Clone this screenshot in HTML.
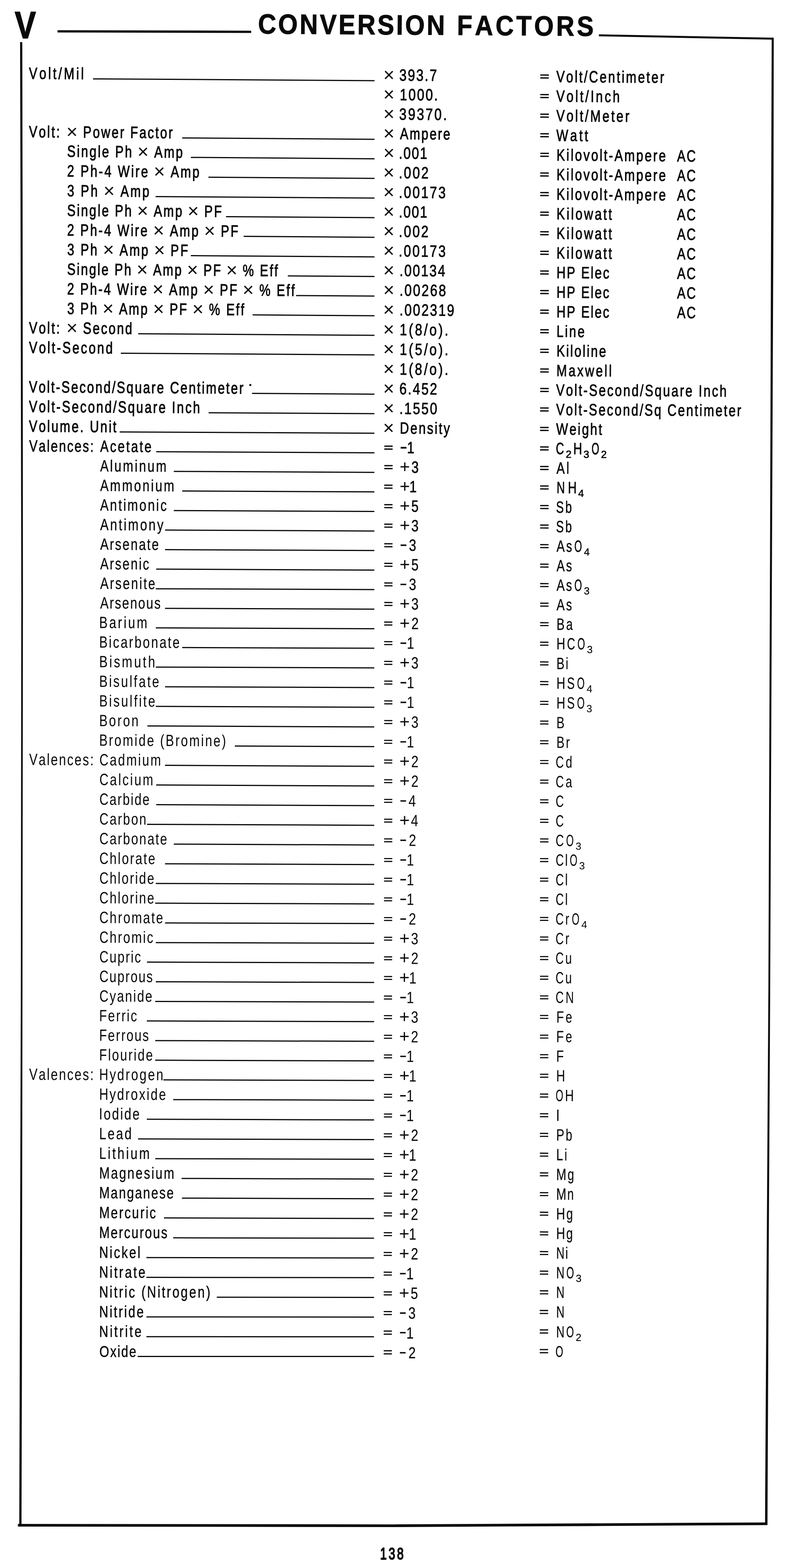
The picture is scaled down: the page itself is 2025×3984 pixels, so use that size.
<!DOCTYPE html>
<html><head><meta charset="utf-8"><title>Conversion Factors - V</title>
<style>
html,body{margin:0;padding:0;background:#fff}
body{width:2025px;height:3984px;overflow:hidden}
svg{display:block}
text{font-family:"Liberation Sans",sans-serif;fill:#0a0a0a;font-kerning:none;white-space:pre}
.b{font-weight:bold}
.t{stroke:#0a0a0a;stroke-width:1.25px;vector-effect:non-scaling-stroke;stroke-linejoin:round}
.x{stroke:none}
.m{stroke:#0a0a0a;stroke-width:0.9px;vector-effect:non-scaling-stroke}
.e{stroke:#0a0a0a;stroke-width:1.5px;vector-effect:non-scaling-stroke}
.b{stroke:#0a0a0a;vector-effect:non-scaling-stroke;stroke-linejoin:round}
.ln{stroke:#0a0a0a;fill:none}
</style></head><body>
<svg width="2025" height="3984" viewBox="0 0 2025 3984">
<path class="ln" d="M146.2 79.7 L638.2 80.8" stroke-width="5.8" stroke-linejoin="miter" stroke-linecap="butt"/>
<path class="ln" d="M1521.7 89.7 L1963.3 98.2" stroke-width="5.0" stroke-linejoin="miter" stroke-linecap="butt"/>
<path d="M1960.7 95.8 L1959.3 510.0 L1956.4 1422.0 L1952.3 2510.0 L1947.9 3200.0 L1944.1 3800.0 L1943.8 3874.8 L1950.0 3874.8 L1950.3 3800.0 L1953.1 3200.0 L1956.9 2510.0 L1961.4 1422.0 L1965.3 510.0 L1965.9 95.8Z" fill="#0a0a0a"/>
<path class="ln" d="M1949.7 3871.6 L1900.0 3871.8 L1500.0 3874.0 L1000.0 3876.6 L500.0 3875.9 L45.6 3875.4" stroke-width="6.8" stroke-linejoin="miter" stroke-linecap="butt"/>
<path d="M51.0 107.0 L52.1 510.0 L54.1 1510.0 L52.9 2510.0 L50.0 3510.0 L48.9 3878.0 L54.6 3878.0 L55.6 3510.0 L57.1 2510.0 L58.3 1510.0 L57.4 510.0 L56.6 107.0Z" fill="#0a0a0a"/>
<text class="b" transform="translate(37.45 97.00) rotate(0.000) scale(0.8400 1)" style="font-size:96px;letter-spacing:0.000px;stroke-width:2px">V</text>
<text class="b" transform="translate(655.38 85.30) rotate(0.400) scale(0.9000 1)" style="font-size:71px;letter-spacing:5.570px;stroke-width:1.2px">CONVERSION</text>
<text class="b" transform="translate(1160.93 88.80) rotate(0.400) scale(0.9000 1)" style="font-size:71px;letter-spacing:7.137px;stroke-width:1.2px">FACTORS</text>
<text class="t" transform="translate(965.70 3962.20) rotate(0.000) scale(0.7200 1)" style="font-size:42px;letter-spacing:6.572px;stroke-width:2.0px">138</text>
<text class="t" transform="translate(73.56 200.41) rotate(0.358) scale(0.7700 1)" style="font-size:41.5px;letter-spacing:6.423px;stroke-width:1.10px">Volt/Mil</text>
<path class="ln" d="M236.4 200.4 L951.7 204.9" stroke-width="3.0" stroke-linejoin="miter" stroke-linecap="butt"/>
<text class="x" transform="translate(973.81 206.63) rotate(0.358) scale(0.9980 1)" style="font-size:49px;letter-spacing:0.000px">×</text>
<text class="t" transform="translate(1014.44 205.08) rotate(0.358) scale(0.8000 1)" style="font-size:41.5px;letter-spacing:3.860px;stroke-width:1.10px">393.7</text>
<text class="e" transform="translate(1371.48 204.01) rotate(0.358) scale(1.4024 1)" style="font-size:29.5px;letter-spacing:0.000px;stroke-width:1.51px">=</text>
<text class="t" transform="translate(1413.46 208.77) rotate(0.358) scale(0.7700 1)" style="font-size:41.5px;letter-spacing:4.986px;stroke-width:1.10px">Volt/Centimeter</text>
<text class="x" transform="translate(973.77 256.18) rotate(0.371) scale(0.9980 1)" style="font-size:49px;letter-spacing:0.000px">×</text>
<text class="t" transform="translate(1015.83 254.65) rotate(0.371) scale(0.8000 1)" style="font-size:41.5px;letter-spacing:4.181px;stroke-width:1.09px">1000.</text>
<text class="e" transform="translate(1371.46 253.78) rotate(0.371) scale(1.4024 1)" style="font-size:29.5px;letter-spacing:0.000px;stroke-width:1.50px">=</text>
<text class="t" transform="translate(1413.44 258.56) rotate(0.371) scale(0.7700 1)" style="font-size:41.5px;letter-spacing:5.986px;stroke-width:1.09px">Volt/Inch</text>
<text class="x" transform="translate(973.73 305.73) rotate(0.384) scale(0.9980 1)" style="font-size:49px;letter-spacing:0.000px">×</text>
<text class="t" transform="translate(1014.36 304.20) rotate(0.384) scale(0.8000 1)" style="font-size:41.5px;letter-spacing:4.813px;stroke-width:1.09px">39370.</text>
<text class="e" transform="translate(1371.44 303.56) rotate(0.384) scale(1.4024 1)" style="font-size:29.5px;letter-spacing:0.000px;stroke-width:1.50px">=</text>
<text class="t" transform="translate(1413.42 308.34) rotate(0.384) scale(0.7700 1)" style="font-size:41.5px;letter-spacing:5.764px;stroke-width:1.09px">Volt/Meter</text>
<text class="t" transform="translate(73.56 348.82) rotate(0.398) scale(0.7700 1)" style="font-size:41.5px;letter-spacing:4.681px;stroke-width:1.10px">Volt:</text>
<text class="x" transform="translate(168.60 351.28) rotate(0.398) scale(1.0000 1)" style="font-size:49px;letter-spacing:0.000px">×</text>
<text class="t" transform="translate(211.07 349.78) rotate(0.398) scale(0.7700 1)" style="font-size:41.5px;letter-spacing:4.445px;stroke-width:1.10px">Power Factor</text>
<path class="ln" d="M463.0 350.5 L951.6 353.9" stroke-width="3.0" stroke-linejoin="miter" stroke-linecap="butt"/>
<text class="x" transform="translate(973.69 355.28) rotate(0.398) scale(0.9980 1)" style="font-size:49px;letter-spacing:0.000px">×</text>
<text class="t" transform="translate(1016.32 353.78) rotate(0.398) scale(0.7700 1)" style="font-size:41.5px;letter-spacing:4.076px;stroke-width:1.08px">Ampere</text>
<text class="e" transform="translate(1371.42 353.33) rotate(0.398) scale(1.4024 1)" style="font-size:29.5px;letter-spacing:0.000px;stroke-width:1.50px">=</text>
<text class="t" transform="translate(1413.39 358.13) rotate(0.398) scale(0.7700 1)" style="font-size:41.5px;letter-spacing:6.574px;stroke-width:1.08px">Watt</text>
<text class="t" transform="translate(170.55 398.58) rotate(0.430) scale(0.7700 1)" style="font-size:41.5px;letter-spacing:4.517px;stroke-width:1.10px">Single Ph</text>
<text class="x" transform="translate(349.10 401.72) rotate(0.430) scale(1.0000 1)" style="font-size:49px;letter-spacing:0.000px">×</text>
<text class="t" transform="translate(391.68 400.24) rotate(0.430) scale(0.7700 1)" style="font-size:41.5px;letter-spacing:4.517px;stroke-width:1.10px">Amp</text>
<path class="ln" d="M484.9 399.9 L951.6 403.4" stroke-width="3.0" stroke-linejoin="miter" stroke-linecap="butt"/>
<text class="x" transform="translate(973.66 404.68) rotate(0.430) scale(0.9980 1)" style="font-size:49px;letter-spacing:0.000px">×</text>
<text class="t" transform="translate(1013.31 403.18) rotate(0.430) scale(0.8000 1)" style="font-size:41.5px;letter-spacing:3.182px;stroke-width:1.08px">.001</text>
<text class="e" transform="translate(1371.39 403.08) rotate(0.430) scale(1.4024 1)" style="font-size:29.5px;letter-spacing:0.000px;stroke-width:1.49px">=</text>
<text class="t" transform="translate(1414.09 407.90) rotate(0.430) scale(0.7700 1)" style="font-size:41.5px;letter-spacing:4.833px;stroke-width:1.08px">Kilovolt-Ampere</text>
<text class="t" transform="translate(1720.14 410.20) rotate(0.430) scale(0.7700 1)" style="font-size:41.5px;letter-spacing:4.011px;stroke-width:1.08px">AC</text>
<text class="t" transform="translate(170.39 448.58) rotate(0.420) scale(0.7700 1)" style="font-size:41.5px;letter-spacing:4.801px;stroke-width:1.10px">2 Ph-4 Wire</text>
<text class="x" transform="translate(390.43 452.00) rotate(0.420) scale(1.0000 1)" style="font-size:49px;letter-spacing:0.000px">×</text>
<text class="t" transform="translate(433.44 450.51) rotate(0.420) scale(0.7700 1)" style="font-size:41.5px;letter-spacing:4.801px;stroke-width:1.10px">Amp</text>
<path class="ln" d="M529.6 450.2 L951.6 453.3" stroke-width="3.0" stroke-linejoin="miter" stroke-linecap="butt"/>
<text class="x" transform="translate(973.62 454.42) rotate(0.420) scale(0.9980 1)" style="font-size:49px;letter-spacing:0.000px">×</text>
<text class="t" transform="translate(1013.28 452.91) rotate(0.420) scale(0.8000 1)" style="font-size:41.5px;letter-spacing:4.493px;stroke-width:1.07px">.002</text>
<text class="e" transform="translate(1371.37 452.89) rotate(0.420) scale(1.4024 1)" style="font-size:29.5px;letter-spacing:0.000px;stroke-width:1.49px">=</text>
<text class="t" transform="translate(1414.07 457.70) rotate(0.420) scale(0.7700 1)" style="font-size:41.5px;letter-spacing:4.833px;stroke-width:1.07px">Kilovolt-Ampere</text>
<text class="t" transform="translate(1720.14 459.95) rotate(0.420) scale(0.7700 1)" style="font-size:41.5px;letter-spacing:4.011px;stroke-width:1.07px">AC</text>
<text class="t" transform="translate(170.78 498.80) rotate(0.402) scale(0.7700 1)" style="font-size:41.5px;letter-spacing:4.981px;stroke-width:1.10px">3 Ph</text>
<text class="x" transform="translate(262.68 501.24) rotate(0.402) scale(1.0000 1)" style="font-size:49px;letter-spacing:0.000px">×</text>
<text class="t" transform="translate(305.97 499.74) rotate(0.402) scale(0.7700 1)" style="font-size:41.5px;letter-spacing:4.981px;stroke-width:1.10px">Amp</text>
<path class="ln" d="M395.4 499.4 L951.6 503.3" stroke-width="3.0" stroke-linejoin="miter" stroke-linecap="butt"/>
<text class="x" transform="translate(973.58 504.24) rotate(0.402) scale(0.9980 1)" style="font-size:49px;letter-spacing:0.000px">×</text>
<text class="t" transform="translate(1013.24 502.72) rotate(0.402) scale(0.8000 1)" style="font-size:41.5px;letter-spacing:4.386px;stroke-width:1.07px">.00173</text>
<text class="e" transform="translate(1371.35 502.71) rotate(0.402) scale(1.4024 1)" style="font-size:29.5px;letter-spacing:0.000px;stroke-width:1.49px">=</text>
<text class="t" transform="translate(1414.05 507.51) rotate(0.402) scale(0.7700 1)" style="font-size:41.5px;letter-spacing:4.833px;stroke-width:1.07px">Kilovolt-Ampere</text>
<text class="t" transform="translate(1720.14 509.65) rotate(0.402) scale(0.7700 1)" style="font-size:41.5px;letter-spacing:4.011px;stroke-width:1.07px">AC</text>
<text class="t" transform="translate(170.55 548.64) rotate(0.399) scale(0.7700 1)" style="font-size:41.5px;letter-spacing:4.381px;stroke-width:1.10px">Single Ph</text>
<text class="x" transform="translate(348.06 551.68) rotate(0.399) scale(1.0000 1)" style="font-size:49px;letter-spacing:0.000px">×</text>
<text class="t" transform="translate(390.43 550.18) rotate(0.399) scale(0.7700 1)" style="font-size:41.5px;letter-spacing:4.381px;stroke-width:1.10px">Amp</text>
<text class="x" transform="translate(476.61 552.58) rotate(0.399) scale(1.0000 1)" style="font-size:49px;letter-spacing:0.000px">×</text>
<text class="t" transform="translate(518.97 551.07) rotate(0.399) scale(0.7700 1)" style="font-size:41.5px;letter-spacing:4.381px;stroke-width:1.10px">PF</text>
<path class="ln" d="M574.3 550.5 L951.5 553.1" stroke-width="3.0" stroke-linejoin="miter" stroke-linecap="butt"/>
<text class="x" transform="translate(973.54 553.93) rotate(0.399) scale(0.9980 1)" style="font-size:49px;letter-spacing:0.000px">×</text>
<text class="t" transform="translate(1013.20 552.40) rotate(0.399) scale(0.8000 1)" style="font-size:41.5px;letter-spacing:3.182px;stroke-width:1.06px">.001</text>
<text class="e" transform="translate(1371.33 552.51) rotate(0.399) scale(1.4024 1)" style="font-size:29.5px;letter-spacing:0.000px;stroke-width:1.48px">=</text>
<text class="t" transform="translate(1414.03 557.30) rotate(0.399) scale(0.7700 1)" style="font-size:41.5px;letter-spacing:5.355px;stroke-width:1.06px">Kilowatt</text>
<text class="t" transform="translate(1720.14 559.43) rotate(0.399) scale(0.7700 1)" style="font-size:41.5px;letter-spacing:4.011px;stroke-width:1.06px">AC</text>
<text class="t" transform="translate(170.39 598.50) rotate(0.396) scale(0.7700 1)" style="font-size:41.5px;letter-spacing:4.610px;stroke-width:1.10px">2 Ph-4 Wire</text>
<text class="x" transform="translate(388.67 601.81) rotate(0.396) scale(1.0000 1)" style="font-size:49px;letter-spacing:0.000px">×</text>
<text class="t" transform="translate(431.39 600.30) rotate(0.396) scale(0.7700 1)" style="font-size:41.5px;letter-spacing:4.610px;stroke-width:1.10px">Amp</text>
<text class="x" transform="translate(518.28 602.70) rotate(0.396) scale(1.0000 1)" style="font-size:49px;letter-spacing:0.000px">×</text>
<text class="t" transform="translate(561.00 601.20) rotate(0.396) scale(0.7700 1)" style="font-size:41.5px;letter-spacing:4.610px;stroke-width:1.10px">PF</text>
<path class="ln" d="M619.0 600.6 L951.5 602.9" stroke-width="3.0" stroke-linejoin="miter" stroke-linecap="butt"/>
<text class="x" transform="translate(973.50 603.61) rotate(0.396) scale(0.9980 1)" style="font-size:49px;letter-spacing:0.000px">×</text>
<text class="t" transform="translate(1013.16 602.08) rotate(0.396) scale(0.8000 1)" style="font-size:41.5px;letter-spacing:4.493px;stroke-width:1.06px">.002</text>
<text class="e" transform="translate(1371.31 602.30) rotate(0.396) scale(1.4024 1)" style="font-size:29.5px;letter-spacing:0.000px;stroke-width:1.48px">=</text>
<text class="t" transform="translate(1414.01 607.10) rotate(0.396) scale(0.7700 1)" style="font-size:41.5px;letter-spacing:5.355px;stroke-width:1.06px">Kilowatt</text>
<text class="t" transform="translate(1720.14 609.22) rotate(0.396) scale(0.7700 1)" style="font-size:41.5px;letter-spacing:4.011px;stroke-width:1.06px">AC</text>
<text class="t" transform="translate(170.78 648.35) rotate(0.394) scale(0.7700 1)" style="font-size:41.5px;letter-spacing:4.585px;stroke-width:1.10px">3 Ph</text>
<text class="x" transform="translate(261.15 650.77) rotate(0.394) scale(1.0000 1)" style="font-size:49px;letter-spacing:0.000px">×</text>
<text class="t" transform="translate(303.83 649.26) rotate(0.394) scale(0.7700 1)" style="font-size:41.5px;letter-spacing:4.585px;stroke-width:1.10px">Amp</text>
<text class="x" transform="translate(390.64 651.66) rotate(0.394) scale(1.0000 1)" style="font-size:49px;letter-spacing:0.000px">×</text>
<text class="t" transform="translate(433.32 650.15) rotate(0.394) scale(0.7700 1)" style="font-size:41.5px;letter-spacing:4.585px;stroke-width:1.10px">PF</text>
<path class="ln" d="M484.9 649.5 L951.5 652.7" stroke-width="3.0" stroke-linejoin="miter" stroke-linecap="butt"/>
<text class="x" transform="translate(973.46 653.30) rotate(0.394) scale(0.9980 1)" style="font-size:49px;letter-spacing:0.000px">×</text>
<text class="t" transform="translate(1013.12 651.77) rotate(0.394) scale(0.8000 1)" style="font-size:41.5px;letter-spacing:4.386px;stroke-width:1.05px">.00173</text>
<text class="e" transform="translate(1371.29 652.10) rotate(0.394) scale(1.4024 1)" style="font-size:29.5px;letter-spacing:0.000px;stroke-width:1.48px">=</text>
<text class="t" transform="translate(1413.98 656.89) rotate(0.394) scale(0.7700 1)" style="font-size:41.5px;letter-spacing:5.355px;stroke-width:1.05px">Kilowatt</text>
<text class="t" transform="translate(1720.14 659.00) rotate(0.394) scale(0.7700 1)" style="font-size:41.5px;letter-spacing:4.011px;stroke-width:1.05px">AC</text>
<text class="t" transform="translate(170.55 698.20) rotate(0.391) scale(0.7700 1)" style="font-size:41.5px;letter-spacing:4.229px;stroke-width:1.10px">Single Ph</text>
<text class="x" transform="translate(346.88 701.20) rotate(0.391) scale(1.0000 1)" style="font-size:49px;letter-spacing:0.000px">×</text>
<text class="t" transform="translate(389.01 699.69) rotate(0.391) scale(0.7700 1)" style="font-size:41.5px;letter-spacing:4.229px;stroke-width:1.10px">Amp</text>
<text class="x" transform="translate(474.72 702.08) rotate(0.391) scale(1.0000 1)" style="font-size:49px;letter-spacing:0.000px">×</text>
<text class="t" transform="translate(516.85 700.56) rotate(0.391) scale(0.7700 1)" style="font-size:41.5px;letter-spacing:4.229px;stroke-width:1.10px">PF</text>
<text class="x" transform="translate(574.44 702.76) rotate(0.391) scale(1.0000 1)" style="font-size:49px;letter-spacing:0.000px">×</text>
<text class="t" transform="translate(616.57 701.24) rotate(0.391) scale(0.7700 1)" style="font-size:41.5px;letter-spacing:4.229px;stroke-width:1.10px">% Eff</text>
<path class="ln" d="M731.3 701.0 L951.5 702.5" stroke-width="3.0" stroke-linejoin="miter" stroke-linecap="butt"/>
<text class="x" transform="translate(973.42 702.98) rotate(0.391) scale(0.9980 1)" style="font-size:49px;letter-spacing:0.000px">×</text>
<text class="t" transform="translate(1015.08 701.46) rotate(0.391) scale(0.8000 1)" style="font-size:41.5px;letter-spacing:3.565px;stroke-width:1.05px">.00134</text>
<text class="e" transform="translate(1371.26 701.90) rotate(0.391) scale(1.4024 1)" style="font-size:29.5px;letter-spacing:0.000px;stroke-width:1.48px">=</text>
<text class="t" transform="translate(1413.96 706.69) rotate(0.391) scale(0.7700 1)" style="font-size:41.5px;letter-spacing:4.011px;stroke-width:1.05px">HP Elec</text>
<text class="t" transform="translate(1720.14 708.78) rotate(0.391) scale(0.7700 1)" style="font-size:41.5px;letter-spacing:4.011px;stroke-width:1.05px">AC</text>
<text class="t" transform="translate(170.39 748.05) rotate(0.389) scale(0.7700 1)" style="font-size:41.5px;letter-spacing:4.427px;stroke-width:1.10px">2 Ph-4 Wire</text>
<text class="x" transform="translate(386.98 751.32) rotate(0.389) scale(1.0000 1)" style="font-size:49px;letter-spacing:0.000px">×</text>
<text class="t" transform="translate(429.42 749.81) rotate(0.389) scale(0.7700 1)" style="font-size:41.5px;letter-spacing:4.427px;stroke-width:1.10px">Amp</text>
<text class="x" transform="translate(515.74 752.19) rotate(0.389) scale(1.0000 1)" style="font-size:49px;letter-spacing:0.000px">×</text>
<text class="t" transform="translate(558.18 750.68) rotate(0.389) scale(0.7700 1)" style="font-size:41.5px;letter-spacing:4.427px;stroke-width:1.10px">PF</text>
<text class="x" transform="translate(616.22 752.87) rotate(0.389) scale(1.0000 1)" style="font-size:49px;letter-spacing:0.000px">×</text>
<text class="t" transform="translate(658.66 751.36) rotate(0.389) scale(0.7700 1)" style="font-size:41.5px;letter-spacing:4.427px;stroke-width:1.10px">% Eff</text>
<path class="ln" d="M752.2 751.0 L951.4 752.3" stroke-width="3.0" stroke-linejoin="miter" stroke-linecap="butt"/>
<text class="x" transform="translate(973.39 753.04) rotate(0.389) scale(0.9980 1)" style="font-size:49px;letter-spacing:0.000px">×</text>
<text class="t" transform="translate(1015.05 751.53) rotate(0.389) scale(0.8000 1)" style="font-size:41.5px;letter-spacing:4.082px;stroke-width:1.04px">.00268</text>
<text class="e" transform="translate(1371.24 751.69) rotate(0.389) scale(1.4024 1)" style="font-size:29.5px;letter-spacing:0.000px;stroke-width:1.47px">=</text>
<text class="t" transform="translate(1413.94 756.48) rotate(0.389) scale(0.7700 1)" style="font-size:41.5px;letter-spacing:4.011px;stroke-width:1.04px">HP Elec</text>
<text class="t" transform="translate(1720.14 758.56) rotate(0.389) scale(0.7700 1)" style="font-size:41.5px;letter-spacing:4.011px;stroke-width:1.04px">AC</text>
<text class="t" transform="translate(170.78 797.90) rotate(0.386) scale(0.7700 1)" style="font-size:41.5px;letter-spacing:4.323px;stroke-width:1.10px">3 Ph</text>
<text class="x" transform="translate(260.14 800.31) rotate(0.386) scale(1.0000 1)" style="font-size:49px;letter-spacing:0.000px">×</text>
<text class="t" transform="translate(302.42 798.79) rotate(0.386) scale(0.7700 1)" style="font-size:41.5px;letter-spacing:4.323px;stroke-width:1.10px">Amp</text>
<text class="x" transform="translate(388.42 801.17) rotate(0.386) scale(1.0000 1)" style="font-size:49px;letter-spacing:0.000px">×</text>
<text class="t" transform="translate(430.70 799.65) rotate(0.386) scale(0.7700 1)" style="font-size:41.5px;letter-spacing:4.323px;stroke-width:1.10px">PF</text>
<text class="x" transform="translate(488.50 801.84) rotate(0.386) scale(1.0000 1)" style="font-size:49px;letter-spacing:0.000px">×</text>
<text class="t" transform="translate(530.78 800.33) rotate(0.386) scale(0.7700 1)" style="font-size:41.5px;letter-spacing:4.323px;stroke-width:1.10px">% Eff</text>
<path class="ln" d="M641.9 800.1 L951.4 802.2" stroke-width="3.0" stroke-linejoin="miter" stroke-linecap="butt"/>
<text class="x" transform="translate(973.35 803.11) rotate(0.386) scale(0.9980 1)" style="font-size:49px;letter-spacing:0.000px">×</text>
<text class="t" transform="translate(1015.01 801.59) rotate(0.386) scale(0.8000 1)" style="font-size:41.5px;letter-spacing:3.978px;stroke-width:1.04px">.002319</text>
<text class="e" transform="translate(1371.22 801.49) rotate(0.386) scale(1.4024 1)" style="font-size:29.5px;letter-spacing:0.000px;stroke-width:1.47px">=</text>
<text class="t" transform="translate(1413.92 806.28) rotate(0.386) scale(0.7700 1)" style="font-size:41.5px;letter-spacing:4.011px;stroke-width:1.04px">HP Elec</text>
<text class="t" transform="translate(1720.14 808.34) rotate(0.386) scale(0.7700 1)" style="font-size:41.5px;letter-spacing:4.011px;stroke-width:1.04px">AC</text>
<text class="t" transform="translate(73.56 847.10) rotate(0.383) scale(0.7700 1)" style="font-size:41.5px;letter-spacing:4.681px;stroke-width:1.10px">Volt:</text>
<text class="x" transform="translate(168.60 849.54) rotate(0.383) scale(1.0000 1)" style="font-size:49px;letter-spacing:0.000px">×</text>
<text class="t" transform="translate(210.87 848.02) rotate(0.383) scale(0.7700 1)" style="font-size:41.5px;letter-spacing:4.315px;stroke-width:1.10px">Second</text>
<path class="ln" d="M351.2 848.0 L951.4 852.0" stroke-width="3.0" stroke-linejoin="miter" stroke-linecap="butt"/>
<text class="x" transform="translate(973.31 853.17) rotate(0.383) scale(0.9980 1)" style="font-size:49px;letter-spacing:0.000px">×</text>
<text class="t" transform="translate(1015.47 851.66) rotate(0.383) scale(0.8000 1)" style="font-size:41.5px;letter-spacing:5.752px;stroke-width:1.03px">1(8/o).</text>
<text class="e" transform="translate(1371.20 851.29) rotate(0.383) scale(1.4024 1)" style="font-size:29.5px;letter-spacing:0.000px;stroke-width:1.47px">=</text>
<text class="t" transform="translate(1413.90 856.07) rotate(0.383) scale(0.7700 1)" style="font-size:41.5px;letter-spacing:4.773px;stroke-width:1.03px">Line</text>
<text class="t" transform="translate(73.56 896.96) rotate(0.381) scale(0.7700 1)" style="font-size:41.5px;letter-spacing:5.015px;stroke-width:1.10px">Volt-Second</text>
<path class="ln" d="M307.0 897.5 L951.4 901.8" stroke-width="3.0" stroke-linejoin="miter" stroke-linecap="butt"/>
<text class="x" transform="translate(973.27 903.24) rotate(0.381) scale(0.9980 1)" style="font-size:49px;letter-spacing:0.000px">×</text>
<text class="t" transform="translate(1015.43 901.72) rotate(0.381) scale(0.8000 1)" style="font-size:41.5px;letter-spacing:5.752px;stroke-width:1.03px">1(5/o).</text>
<text class="e" transform="translate(1371.18 901.08) rotate(0.381) scale(1.4024 1)" style="font-size:29.5px;letter-spacing:0.000px;stroke-width:1.46px">=</text>
<text class="t" transform="translate(1413.88 905.87) rotate(0.381) scale(0.7700 1)" style="font-size:41.5px;letter-spacing:4.270px;stroke-width:1.03px">Kiloline</text>
<text class="x" transform="translate(973.23 953.41) rotate(0.371) scale(0.9980 1)" style="font-size:49px;letter-spacing:0.000px">×</text>
<text class="t" transform="translate(1015.39 951.88) rotate(0.371) scale(0.8000 1)" style="font-size:41.5px;letter-spacing:5.752px;stroke-width:1.02px">1(8/o).</text>
<text class="e" transform="translate(1371.16 950.89) rotate(0.371) scale(1.4024 1)" style="font-size:29.5px;letter-spacing:0.000px;stroke-width:1.46px">=</text>
<text class="t" transform="translate(1413.86 955.67) rotate(0.371) scale(0.7700 1)" style="font-size:41.5px;letter-spacing:5.377px;stroke-width:1.02px">Maxwell</text>
<text class="t" transform="translate(73.56 997.03) rotate(0.349) scale(0.7700 1)" style="font-size:41.5px;letter-spacing:4.351px;stroke-width:1.10px">Volt-Second/Square Centimeter</text>
<path class="ln" d="M640.4 999.5 L951.3 1001.4" stroke-width="3.0" stroke-linejoin="miter" stroke-linecap="butt"/>
<circle cx="636.0" cy="978.2" r="2.7" fill="#0a0a0a"/>
<text class="x" transform="translate(973.19 1003.42) rotate(0.349) scale(0.9980 1)" style="font-size:49px;letter-spacing:0.000px">×</text>
<text class="t" transform="translate(1014.70 1001.87) rotate(0.349) scale(0.8000 1)" style="font-size:41.5px;letter-spacing:3.992px;stroke-width:1.02px">6.452</text>
<text class="e" transform="translate(1371.14 1000.44) rotate(0.349) scale(1.4024 1)" style="font-size:29.5px;letter-spacing:0.000px;stroke-width:1.46px">=</text>
<text class="t" transform="translate(1413.11 1005.20) rotate(0.349) scale(0.7700 1)" style="font-size:41.5px;letter-spacing:4.595px;stroke-width:1.02px">Volt-Second/Square Inch</text>
<text class="t" transform="translate(73.56 1047.08) rotate(0.328) scale(0.7700 1)" style="font-size:41.5px;letter-spacing:4.689px;stroke-width:1.10px">Volt-Second/Square Inch</text>
<path class="ln" d="M530.0 1048.7 L951.3 1051.1" stroke-width="3.0" stroke-linejoin="miter" stroke-linecap="butt"/>
<text class="x" transform="translate(973.16 1053.42) rotate(0.328) scale(0.9980 1)" style="font-size:49px;letter-spacing:0.000px">×</text>
<text class="t" transform="translate(1014.81 1051.86) rotate(0.328) scale(0.8000 1)" style="font-size:41.5px;letter-spacing:4.015px;stroke-width:1.01px">.1550</text>
<text class="e" transform="translate(1371.11 1050.00) rotate(0.328) scale(1.4024 1)" style="font-size:29.5px;letter-spacing:0.000px;stroke-width:1.46px">=</text>
<text class="t" transform="translate(1413.09 1054.74) rotate(0.328) scale(0.7700 1)" style="font-size:41.5px;letter-spacing:4.495px;stroke-width:1.01px">Volt-Second/Sq Centimeter</text>
<text class="t" transform="translate(73.56 1097.12) rotate(0.306) scale(0.7700 1)" style="font-size:41.5px;letter-spacing:4.645px;stroke-width:1.10px">Volume. Unit</text>
<path class="ln" d="M304.0 1097.4 L951.3 1100.8" stroke-width="3.0" stroke-linejoin="miter" stroke-linecap="butt"/>
<text class="x" transform="translate(973.12 1103.43) rotate(0.306) scale(0.9980 1)" style="font-size:49px;letter-spacing:0.000px">×</text>
<text class="t" transform="translate(1016.09 1101.86) rotate(0.306) scale(0.7700 1)" style="font-size:41.5px;letter-spacing:4.422px;stroke-width:1.01px">Density</text>
<text class="e" transform="translate(1371.09 1099.55) rotate(0.306) scale(1.4024 1)" style="font-size:29.5px;letter-spacing:0.000px;stroke-width:1.45px">=</text>
<text class="t" transform="translate(1413.07 1104.28) rotate(0.306) scale(0.7700 1)" style="font-size:41.5px;letter-spacing:4.473px;stroke-width:1.01px">Weight</text>
<text class="t" transform="translate(74.06 1147.18) rotate(0.284) scale(0.7700 1)" style="font-size:41.5px;letter-spacing:3.819px;stroke-width:0.83px">Valences:</text>
<text class="t" transform="translate(254.44 1148.07) rotate(0.284) scale(0.7700 1)" style="font-size:41.5px;letter-spacing:4.788px;stroke-width:0.83px">Acetate</text>
<path class="ln" d="M396.9 1147.8 L951.3 1150.5" stroke-width="3.0" stroke-linejoin="miter" stroke-linecap="butt"/>
<text class="e" transform="translate(975.20 1146.98) rotate(0.284) scale(1.3675 1)" style="font-size:29.5px;letter-spacing:0.000px;stroke-width:1.45px">=</text>
<text class="m" transform="translate(1016.63 1152.38) rotate(0.284) scale(0.6495 1)" style="font-size:45px;letter-spacing:0.000px;stroke-width:0.85px">−</text>
<text class="t" transform="translate(1034.13 1151.57) rotate(0.284) scale(0.8000 1)" style="font-size:41.5px;letter-spacing:0.000px;stroke-width:1.00px">1</text>
<text class="e" transform="translate(1371.07 1149.11) rotate(0.284) scale(1.4024 1)" style="font-size:29.5px;letter-spacing:0.000px;stroke-width:1.45px">=</text>
<text class="t" transform="translate(1412.14 1153.81) rotate(0.284) scale(0.6900 1)" style="font-size:41.5px;letter-spacing:0.000px;stroke-width:1.00px">C</text>
<text class="t" transform="translate(1437.42 1162.94) rotate(0.284) scale(1.0000 1)" style="font-size:26px;letter-spacing:0.000px;stroke-width:1.00px">2</text>
<text class="t" transform="translate(1456.52 1154.03) rotate(0.284) scale(0.7500 1)" style="font-size:41.5px;letter-spacing:0.000px;stroke-width:1.00px">H</text>
<text class="t" transform="translate(1482.47 1163.16) rotate(0.284) scale(1.0000 1)" style="font-size:26px;letter-spacing:0.000px;stroke-width:1.00px">3</text>
<text class="t" transform="translate(1503.10 1154.26) rotate(0.284) scale(0.6000 1)" style="font-size:41.5px;letter-spacing:0.000px;stroke-width:1.00px">O</text>
<text class="t" transform="translate(1526.97 1163.38) rotate(0.284) scale(1.0000 1)" style="font-size:26px;letter-spacing:0.000px;stroke-width:1.00px">2</text>
<text class="t" transform="translate(254.44 1197.81) rotate(0.277) scale(0.7700 1)" style="font-size:41.5px;letter-spacing:4.899px;stroke-width:0.55px">Aluminum</text>
<path class="ln" d="M441.6 1197.7 L951.2 1200.2" stroke-width="3.0" stroke-linejoin="miter" stroke-linecap="butt"/>
<text class="e" transform="translate(975.16 1196.57) rotate(0.277) scale(1.3675 1)" style="font-size:29.5px;letter-spacing:0.000px;stroke-width:1.40px">=</text>
<text class="x" transform="translate(1015.33 1201.06) rotate(0.277) scale(1.0017 1)" style="font-size:45px;letter-spacing:0.000px">+</text>
<text class="t" transform="translate(1045.23 1201.21) rotate(0.277) scale(0.8000 1)" style="font-size:41.5px;letter-spacing:0.000px;stroke-width:0.90px">3</text>
<text class="e" transform="translate(1371.05 1198.72) rotate(0.277) scale(1.4024 1)" style="font-size:29.5px;letter-spacing:0.000px;stroke-width:1.40px">=</text>
<text class="t" transform="translate(1414.11 1203.43) rotate(0.277) scale(0.7500 1)" style="font-size:41.5px;letter-spacing:0.000px;stroke-width:0.90px">A</text>
<text class="t" transform="translate(1439.29 1203.55) rotate(0.277) scale(0.7200 1)" style="font-size:41.5px;letter-spacing:0.000px;stroke-width:0.90px">l</text>
<text class="t" transform="translate(254.44 1247.56) rotate(0.270) scale(0.7700 1)" style="font-size:41.5px;letter-spacing:4.951px;stroke-width:0.51px">Ammonium</text>
<path class="ln" d="M463.0 1247.5 L951.2 1249.8" stroke-width="3.0" stroke-linejoin="miter" stroke-linecap="butt"/>
<text class="e" transform="translate(975.12 1246.16) rotate(0.270) scale(1.3675 1)" style="font-size:29.5px;letter-spacing:0.000px;stroke-width:1.34px">=</text>
<text class="x" transform="translate(1015.29 1250.65) rotate(0.270) scale(1.0017 1)" style="font-size:45px;letter-spacing:0.000px">+</text>
<text class="t" transform="translate(1040.35 1250.77) rotate(0.270) scale(0.8000 1)" style="font-size:41.5px;letter-spacing:0.000px;stroke-width:0.80px">1</text>
<text class="e" transform="translate(1371.03 1248.33) rotate(0.270) scale(1.4024 1)" style="font-size:29.5px;letter-spacing:0.000px;stroke-width:1.34px">=</text>
<text class="t" transform="translate(1414.16 1253.03) rotate(0.270) scale(0.7000 1)" style="font-size:41.5px;letter-spacing:0.000px;stroke-width:0.80px">N</text>
<text class="t" transform="translate(1442.72 1253.17) rotate(0.270) scale(0.7500 1)" style="font-size:41.5px;letter-spacing:0.000px;stroke-width:0.80px">H</text>
<text class="t" transform="translate(1469.06 1262.29) rotate(0.270) scale(1.0000 1)" style="font-size:26px;letter-spacing:0.000px;stroke-width:0.80px">4</text>
<text class="t" transform="translate(254.44 1297.30) rotate(0.264) scale(0.7700 1)" style="font-size:41.5px;letter-spacing:4.676px;stroke-width:0.47px">Antimonic</text>
<path class="ln" d="M441.6 1297.2 L951.2 1299.5" stroke-width="3.0" stroke-linejoin="miter" stroke-linecap="butt"/>
<text class="e" transform="translate(975.08 1295.75) rotate(0.264) scale(1.3675 1)" style="font-size:29.5px;letter-spacing:0.000px;stroke-width:1.29px">=</text>
<text class="x" transform="translate(1015.25 1300.23) rotate(0.264) scale(1.0017 1)" style="font-size:45px;letter-spacing:0.000px">+</text>
<text class="t" transform="translate(1045.08 1300.37) rotate(0.264) scale(0.8000 1)" style="font-size:41.5px;letter-spacing:0.000px;stroke-width:0.70px">5</text>
<text class="e" transform="translate(1371.01 1297.94) rotate(0.264) scale(1.4024 1)" style="font-size:29.5px;letter-spacing:0.000px;stroke-width:1.29px">=</text>
<text class="t" transform="translate(1412.79 1302.63) rotate(0.264) scale(0.7100 1)" style="font-size:41.5px;letter-spacing:0.000px;stroke-width:0.70px">S</text>
<text class="t" transform="translate(1436.16 1302.74) rotate(0.264) scale(0.7200 1)" style="font-size:41.5px;letter-spacing:0.000px;stroke-width:0.70px">b</text>
<text class="t" transform="translate(254.44 1347.04) rotate(0.257) scale(0.7700 1)" style="font-size:41.5px;letter-spacing:5.143px;stroke-width:0.43px">Antimony</text>
<path class="ln" d="M419.3 1346.8 L951.2 1349.2" stroke-width="3.0" stroke-linejoin="miter" stroke-linecap="butt"/>
<text class="e" transform="translate(975.05 1345.34) rotate(0.257) scale(1.3675 1)" style="font-size:29.5px;letter-spacing:0.000px;stroke-width:1.23px">=</text>
<text class="x" transform="translate(1015.21 1349.82) rotate(0.257) scale(1.0017 1)" style="font-size:45px;letter-spacing:0.000px">+</text>
<text class="t" transform="translate(1045.11 1349.95) rotate(0.257) scale(0.8000 1)" style="font-size:41.5px;letter-spacing:0.000px;stroke-width:0.60px">3</text>
<text class="e" transform="translate(1370.98 1347.55) rotate(0.257) scale(1.4024 1)" style="font-size:29.5px;letter-spacing:0.000px;stroke-width:1.23px">=</text>
<text class="t" transform="translate(1412.77 1352.23) rotate(0.257) scale(0.7100 1)" style="font-size:41.5px;letter-spacing:0.000px;stroke-width:0.60px">S</text>
<text class="t" transform="translate(1436.14 1352.34) rotate(0.257) scale(0.7200 1)" style="font-size:41.5px;letter-spacing:0.000px;stroke-width:0.60px">b</text>
<text class="t" transform="translate(254.44 1396.79) rotate(0.250) scale(0.7700 1)" style="font-size:41.5px;letter-spacing:3.893px;stroke-width:0.38px">Arsenate</text>
<path class="ln" d="M419.3 1396.5 L951.1 1398.8" stroke-width="3.0" stroke-linejoin="miter" stroke-linecap="butt"/>
<text class="e" transform="translate(975.01 1394.93) rotate(0.250) scale(1.3675 1)" style="font-size:29.5px;letter-spacing:0.000px;stroke-width:1.20px">=</text>
<text class="m" transform="translate(1016.44 1400.31) rotate(0.250) scale(0.6495 1)" style="font-size:45px;letter-spacing:0.000px;stroke-width:0.53px">−</text>
<text class="t" transform="translate(1039.07 1399.51) rotate(0.250) scale(0.8000 1)" style="font-size:41.5px;letter-spacing:0.000px;stroke-width:0.55px">3</text>
<text class="e" transform="translate(1370.96 1397.16) rotate(0.250) scale(1.4024 1)" style="font-size:29.5px;letter-spacing:0.000px;stroke-width:1.20px">=</text>
<text class="t" transform="translate(1414.02 1401.84) rotate(0.250) scale(0.7500 1)" style="font-size:41.5px;letter-spacing:0.000px;stroke-width:0.55px">A</text>
<text class="t" transform="translate(1438.39 1401.95) rotate(0.250) scale(0.7200 1)" style="font-size:41.5px;letter-spacing:0.000px;stroke-width:0.55px">s</text>
<text class="t" transform="translate(1459.27 1402.04) rotate(0.250) scale(0.6000 1)" style="font-size:41.5px;letter-spacing:0.000px;stroke-width:0.55px">O</text>
<text class="t" transform="translate(1483.85 1411.15) rotate(0.250) scale(1.0000 1)" style="font-size:26px;letter-spacing:0.000px;stroke-width:0.55px">4</text>
<text class="t" transform="translate(254.44 1446.53) rotate(0.243) scale(0.7700 1)" style="font-size:41.5px;letter-spacing:3.864px;stroke-width:0.34px">Arsenic</text>
<path class="ln" d="M396.9 1446.1 L951.1 1448.5" stroke-width="3.0" stroke-linejoin="miter" stroke-linecap="butt"/>
<text class="e" transform="translate(974.97 1444.70) rotate(0.243) scale(1.3675 1)" style="font-size:29.5px;letter-spacing:0.000px;stroke-width:1.18px">=</text>
<text class="x" transform="translate(1015.14 1449.17) rotate(0.243) scale(1.0017 1)" style="font-size:45px;letter-spacing:0.000px">+</text>
<text class="t" transform="translate(1044.97 1449.30) rotate(0.243) scale(0.8000 1)" style="font-size:41.5px;letter-spacing:0.000px;stroke-width:0.50px">5</text>
<text class="e" transform="translate(1370.94 1446.76) rotate(0.243) scale(1.4024 1)" style="font-size:29.5px;letter-spacing:0.000px;stroke-width:1.18px">=</text>
<text class="t" transform="translate(1414.00 1451.45) rotate(0.243) scale(0.7500 1)" style="font-size:41.5px;letter-spacing:0.000px;stroke-width:0.50px">A</text>
<text class="t" transform="translate(1438.37 1451.55) rotate(0.243) scale(0.7200 1)" style="font-size:41.5px;letter-spacing:0.000px;stroke-width:0.50px">s</text>
<text class="t" transform="translate(254.44 1496.27) rotate(0.236) scale(0.7700 1)" style="font-size:41.5px;letter-spacing:4.203px;stroke-width:0.30px">Arsenite</text>
<path class="ln" d="M395.9 1495.9 L951.1 1498.1" stroke-width="3.0" stroke-linejoin="miter" stroke-linecap="butt"/>
<text class="e" transform="translate(974.93 1494.48) rotate(0.236) scale(1.3675 1)" style="font-size:29.5px;letter-spacing:0.000px;stroke-width:1.15px">=</text>
<text class="m" transform="translate(1016.36 1499.85) rotate(0.236) scale(0.6495 1)" style="font-size:45px;letter-spacing:0.000px;stroke-width:0.46px">−</text>
<text class="t" transform="translate(1038.99 1499.04) rotate(0.236) scale(0.8000 1)" style="font-size:41.5px;letter-spacing:0.000px;stroke-width:0.45px">3</text>
<text class="e" transform="translate(1370.92 1496.37) rotate(0.236) scale(1.4024 1)" style="font-size:29.5px;letter-spacing:0.000px;stroke-width:1.15px">=</text>
<text class="t" transform="translate(1413.98 1501.05) rotate(0.236) scale(0.7500 1)" style="font-size:41.5px;letter-spacing:0.000px;stroke-width:0.45px">A</text>
<text class="t" transform="translate(1438.35 1501.15) rotate(0.236) scale(0.7200 1)" style="font-size:41.5px;letter-spacing:0.000px;stroke-width:0.45px">s</text>
<text class="t" transform="translate(1459.23 1501.24) rotate(0.236) scale(0.6000 1)" style="font-size:41.5px;letter-spacing:0.000px;stroke-width:0.45px">O</text>
<text class="t" transform="translate(1483.41 1510.34) rotate(0.236) scale(1.0000 1)" style="font-size:26px;letter-spacing:0.000px;stroke-width:0.45px">3</text>
<text class="t" transform="translate(254.44 1546.02) rotate(0.229) scale(0.7700 1)" style="font-size:41.5px;letter-spacing:3.436px;stroke-width:0.25px">Arsenous</text>
<path class="ln" d="M419.3 1545.7 L951.1 1547.8" stroke-width="3.0" stroke-linejoin="miter" stroke-linecap="butt"/>
<text class="e" transform="translate(974.89 1544.25) rotate(0.229) scale(1.3675 1)" style="font-size:29.5px;letter-spacing:0.000px;stroke-width:1.12px">=</text>
<text class="x" transform="translate(1015.06 1548.71) rotate(0.229) scale(1.0017 1)" style="font-size:45px;letter-spacing:0.000px">+</text>
<text class="t" transform="translate(1044.96 1548.83) rotate(0.229) scale(0.8000 1)" style="font-size:41.5px;letter-spacing:0.000px;stroke-width:0.40px">3</text>
<text class="e" transform="translate(1370.90 1545.98) rotate(0.229) scale(1.4024 1)" style="font-size:29.5px;letter-spacing:0.000px;stroke-width:1.12px">=</text>
<text class="t" transform="translate(1413.96 1550.66) rotate(0.229) scale(0.7500 1)" style="font-size:41.5px;letter-spacing:0.000px;stroke-width:0.40px">A</text>
<text class="t" transform="translate(1438.33 1550.75) rotate(0.229) scale(0.7200 1)" style="font-size:41.5px;letter-spacing:0.000px;stroke-width:0.40px">s</text>
<text class="t" transform="translate(251.88 1595.75) rotate(0.222) scale(0.7700 1)" style="font-size:41.5px;letter-spacing:5.457px;stroke-width:0.20px">Barium</text>
<path class="ln" d="M395.9 1595.3 L951.1 1597.5" stroke-width="3.0" stroke-linejoin="miter" stroke-linecap="butt"/>
<text class="e" transform="translate(974.85 1594.03) rotate(0.222) scale(1.3675 1)" style="font-size:29.5px;letter-spacing:0.000px;stroke-width:1.09px">=</text>
<text class="x" transform="translate(1015.02 1598.49) rotate(0.222) scale(1.0017 1)" style="font-size:45px;letter-spacing:0.000px">+</text>
<text class="t" transform="translate(1045.13 1598.60) rotate(0.222) scale(0.8000 1)" style="font-size:41.5px;letter-spacing:0.000px;stroke-width:0.35px">2</text>
<text class="e" transform="translate(1370.88 1595.59) rotate(0.222) scale(1.4024 1)" style="font-size:29.5px;letter-spacing:0.000px;stroke-width:1.09px">=</text>
<text class="t" transform="translate(1413.88 1600.26) rotate(0.222) scale(0.7400 1)" style="font-size:41.5px;letter-spacing:0.000px;stroke-width:0.35px">B</text>
<text class="t" transform="translate(1438.47 1600.36) rotate(0.222) scale(0.7200 1)" style="font-size:41.5px;letter-spacing:0.000px;stroke-width:0.35px">a</text>
<text class="t" transform="translate(251.88 1645.50) rotate(0.215) scale(0.7700 1)" style="font-size:41.5px;letter-spacing:4.416px;stroke-width:0.15px">Bicarbonate</text>
<path class="ln" d="M463.0 1645.3 L951.0 1647.1" stroke-width="3.0" stroke-linejoin="miter" stroke-linecap="butt"/>
<text class="e" transform="translate(974.81 1643.80) rotate(0.215) scale(1.3675 1)" style="font-size:29.5px;letter-spacing:0.000px;stroke-width:1.06px">=</text>
<text class="m" transform="translate(1016.24 1649.16) rotate(0.215) scale(0.6495 1)" style="font-size:45px;letter-spacing:0.000px;stroke-width:0.36px">−</text>
<text class="t" transform="translate(1033.74 1648.33) rotate(0.215) scale(0.8000 1)" style="font-size:41.5px;letter-spacing:0.000px;stroke-width:0.30px">1</text>
<text class="e" transform="translate(1370.86 1645.20) rotate(0.215) scale(1.4024 1)" style="font-size:29.5px;letter-spacing:0.000px;stroke-width:1.06px">=</text>
<text class="t" transform="translate(1413.82 1649.86) rotate(0.215) scale(0.7500 1)" style="font-size:41.5px;letter-spacing:0.000px;stroke-width:0.30px">H</text>
<text class="t" transform="translate(1440.51 1649.96) rotate(0.215) scale(0.6900 1)" style="font-size:41.5px;letter-spacing:0.000px;stroke-width:0.30px">C</text>
<text class="t" transform="translate(1467.12 1650.06) rotate(0.215) scale(0.6000 1)" style="font-size:41.5px;letter-spacing:0.000px;stroke-width:0.30px">O</text>
<text class="t" transform="translate(1491.30 1659.16) rotate(0.215) scale(1.0000 1)" style="font-size:26px;letter-spacing:0.000px;stroke-width:0.30px">3</text>
<text class="t" transform="translate(251.88 1695.36) rotate(0.227) scale(0.7700 1)" style="font-size:41.5px;letter-spacing:5.772px;stroke-width:0.10px">Bismuth</text>
<path class="ln" d="M395.9 1694.9 L951.0 1697.1" stroke-width="3.0" stroke-linejoin="miter" stroke-linecap="butt"/>
<text class="e" transform="translate(974.78 1693.93) rotate(0.227) scale(1.3675 1)" style="font-size:29.5px;letter-spacing:0.000px;stroke-width:1.04px">=</text>
<text class="x" transform="translate(1014.95 1698.39) rotate(0.227) scale(1.0017 1)" style="font-size:45px;letter-spacing:0.000px">+</text>
<text class="t" transform="translate(1044.84 1698.50) rotate(0.227) scale(0.8000 1)" style="font-size:41.5px;letter-spacing:0.000px;stroke-width:0.25px">3</text>
<text class="e" transform="translate(1370.83 1695.29) rotate(0.227) scale(1.4024 1)" style="font-size:29.5px;letter-spacing:0.000px;stroke-width:1.04px">=</text>
<text class="t" transform="translate(1413.83 1699.96) rotate(0.227) scale(0.7400 1)" style="font-size:41.5px;letter-spacing:0.000px;stroke-width:0.25px">B</text>
<text class="t" transform="translate(1437.20 1700.05) rotate(0.227) scale(0.7200 1)" style="font-size:41.5px;letter-spacing:0.000px;stroke-width:0.25px">i</text>
<text class="t" transform="translate(251.88 1745.22) rotate(0.238) scale(0.7700 1)" style="font-size:41.5px;letter-spacing:4.851px;stroke-width:0.05px">Bisulfate</text>
<path class="ln" d="M419.3 1744.9 L951.0 1747.1" stroke-width="3.0" stroke-linejoin="miter" stroke-linecap="butt"/>
<text class="e" transform="translate(974.74 1744.05) rotate(0.238) scale(1.3675 1)" style="font-size:29.5px;letter-spacing:0.000px;stroke-width:1.01px">=</text>
<text class="m" transform="translate(1016.17 1749.42) rotate(0.238) scale(0.6495 1)" style="font-size:45px;letter-spacing:0.000px;stroke-width:0.29px">−</text>
<text class="t" transform="translate(1033.66 1748.60) rotate(0.238) scale(0.8000 1)" style="font-size:41.5px;letter-spacing:0.000px;stroke-width:0.20px">1</text>
<text class="e" transform="translate(1370.81 1745.37) rotate(0.238) scale(1.4024 1)" style="font-size:29.5px;letter-spacing:0.000px;stroke-width:1.01px">=</text>
<text class="t" transform="translate(1413.78 1750.05) rotate(0.238) scale(0.7500 1)" style="font-size:41.5px;letter-spacing:0.000px;stroke-width:0.20px">H</text>
<text class="t" transform="translate(1440.58 1750.16) rotate(0.238) scale(0.7100 1)" style="font-size:41.5px;letter-spacing:0.000px;stroke-width:0.20px">S</text>
<text class="t" transform="translate(1465.90 1750.27) rotate(0.238) scale(0.6000 1)" style="font-size:41.5px;letter-spacing:0.000px;stroke-width:0.20px">O</text>
<text class="t" transform="translate(1490.48 1759.37) rotate(0.238) scale(1.0000 1)" style="font-size:26px;letter-spacing:0.000px;stroke-width:0.20px">4</text>
<text class="t" transform="translate(251.88 1795.08) rotate(0.250) scale(0.7700 1)" style="font-size:41.5px;letter-spacing:4.960px;stroke-width:0.05px">Bisulfite</text>
<path class="ln" d="M395.9 1794.7 L951.0 1797.1" stroke-width="3.0" stroke-linejoin="miter" stroke-linecap="butt"/>
<text class="e" transform="translate(974.70 1794.17) rotate(0.250) scale(1.3675 1)" style="font-size:29.5px;letter-spacing:0.000px;stroke-width:0.98px">=</text>
<text class="m" transform="translate(1016.13 1799.55) rotate(0.250) scale(0.6495 1)" style="font-size:45px;letter-spacing:0.000px;stroke-width:0.26px">−</text>
<text class="t" transform="translate(1033.63 1798.73) rotate(0.250) scale(0.8000 1)" style="font-size:41.5px;letter-spacing:0.000px;stroke-width:0.15px">1</text>
<text class="e" transform="translate(1370.79 1795.45) rotate(0.250) scale(1.4024 1)" style="font-size:29.5px;letter-spacing:0.000px;stroke-width:0.98px">=</text>
<text class="t" transform="translate(1413.76 1800.14) rotate(0.250) scale(0.7500 1)" style="font-size:41.5px;letter-spacing:0.000px;stroke-width:0.15px">H</text>
<text class="t" transform="translate(1440.56 1800.26) rotate(0.250) scale(0.7100 1)" style="font-size:41.5px;letter-spacing:0.000px;stroke-width:0.15px">S</text>
<text class="t" transform="translate(1465.88 1800.37) rotate(0.250) scale(0.6000 1)" style="font-size:41.5px;letter-spacing:0.000px;stroke-width:0.15px">O</text>
<text class="t" transform="translate(1490.07 1809.47) rotate(0.250) scale(1.0000 1)" style="font-size:26px;letter-spacing:0.000px;stroke-width:0.15px">3</text>
<text class="t" transform="translate(251.88 1844.94) rotate(0.261) scale(0.7700 1)" style="font-size:41.5px;letter-spacing:4.749px;stroke-width:0.05px">Boron</text>
<path class="ln" d="M374.5 1844.5 L950.9 1847.1" stroke-width="3.0" stroke-linejoin="miter" stroke-linecap="butt"/>
<text class="e" transform="translate(974.66 1844.30) rotate(0.261) scale(1.3675 1)" style="font-size:29.5px;letter-spacing:0.000px;stroke-width:0.96px">=</text>
<text class="x" transform="translate(1014.83 1848.78) rotate(0.261) scale(1.0017 1)" style="font-size:45px;letter-spacing:0.000px">+</text>
<text class="t" transform="translate(1044.73 1848.92) rotate(0.261) scale(0.8000 1)" style="font-size:41.5px;letter-spacing:0.000px;stroke-width:0.10px">3</text>
<text class="e" transform="translate(1370.77 1845.54) rotate(0.261) scale(1.4024 1)" style="font-size:29.5px;letter-spacing:0.000px;stroke-width:0.96px">=</text>
<text class="t" transform="translate(1413.77 1850.23) rotate(0.261) scale(0.7400 1)" style="font-size:41.5px;letter-spacing:0.000px;stroke-width:0.10px">B</text>
<text class="t" transform="translate(251.88 1894.80) rotate(0.273) scale(0.7700 1)" style="font-size:41.5px;letter-spacing:4.405px;stroke-width:0.05px">Bromide (Bromine)</text>
<path class="ln" d="M596.7 1895.4 L950.9 1897.1" stroke-width="3.0" stroke-linejoin="miter" stroke-linecap="butt"/>
<text class="e" transform="translate(974.62 1894.42) rotate(0.273) scale(1.3675 1)" style="font-size:29.5px;letter-spacing:0.000px;stroke-width:0.96px">=</text>
<text class="m" transform="translate(1016.05 1899.82) rotate(0.273) scale(0.6495 1)" style="font-size:45px;letter-spacing:0.000px;stroke-width:0.22px">−</text>
<text class="t" transform="translate(1033.55 1899.00) rotate(0.273) scale(0.8000 1)" style="font-size:41.5px;letter-spacing:0.000px;stroke-width:0.10px">1</text>
<text class="e" transform="translate(1370.75 1895.62) rotate(0.273) scale(1.4024 1)" style="font-size:29.5px;letter-spacing:0.000px;stroke-width:0.96px">=</text>
<text class="t" transform="translate(1413.75 1900.33) rotate(0.273) scale(0.7400 1)" style="font-size:41.5px;letter-spacing:0.000px;stroke-width:0.10px">B</text>
<text class="t" transform="translate(1437.63 1900.44) rotate(0.273) scale(0.7200 1)" style="font-size:41.5px;letter-spacing:0.000px;stroke-width:0.10px">r</text>
<text class="t" transform="translate(74.06 1943.78) rotate(0.284) scale(0.7700 1)" style="font-size:41.5px;letter-spacing:3.819px;stroke-width:0.05px">Valences:</text>
<text class="t" transform="translate(252.48 1944.66) rotate(0.284) scale(0.7700 1)" style="font-size:41.5px;letter-spacing:4.264px;stroke-width:0.05px">Cadmium</text>
<path class="ln" d="M419.3 1944.5 L950.9 1947.1" stroke-width="3.0" stroke-linejoin="miter" stroke-linecap="butt"/>
<text class="e" transform="translate(974.58 1944.54) rotate(0.284) scale(1.3675 1)" style="font-size:29.5px;letter-spacing:0.000px;stroke-width:0.96px">=</text>
<text class="x" transform="translate(1014.75 1949.04) rotate(0.284) scale(1.0017 1)" style="font-size:45px;letter-spacing:0.000px">+</text>
<text class="t" transform="translate(1044.86 1949.19) rotate(0.284) scale(0.8000 1)" style="font-size:41.5px;letter-spacing:0.000px;stroke-width:0.10px">2</text>
<text class="e" transform="translate(1370.73 1945.71) rotate(0.284) scale(1.4024 1)" style="font-size:29.5px;letter-spacing:0.000px;stroke-width:0.96px">=</text>
<text class="t" transform="translate(1411.79 1950.41) rotate(0.284) scale(0.6900 1)" style="font-size:41.5px;letter-spacing:0.000px;stroke-width:0.10px">C</text>
<text class="t" transform="translate(1437.13 1950.54) rotate(0.284) scale(0.7200 1)" style="font-size:41.5px;letter-spacing:0.000px;stroke-width:0.10px">d</text>
<text class="t" transform="translate(252.48 1994.75) rotate(0.271) scale(0.7700 1)" style="font-size:41.5px;letter-spacing:4.592px;stroke-width:0.05px">Calcium</text>
<path class="ln" d="M396.9 1994.4 L950.9 1997.1" stroke-width="3.0" stroke-linejoin="miter" stroke-linecap="butt"/>
<text class="e" transform="translate(974.55 1994.58) rotate(0.271) scale(1.3675 1)" style="font-size:29.5px;letter-spacing:0.000px;stroke-width:0.96px">=</text>
<text class="x" transform="translate(1014.71 1999.07) rotate(0.271) scale(1.0017 1)" style="font-size:45px;letter-spacing:0.000px">+</text>
<text class="t" transform="translate(1044.82 1999.22) rotate(0.271) scale(0.8000 1)" style="font-size:41.5px;letter-spacing:0.000px;stroke-width:0.10px">2</text>
<text class="e" transform="translate(1370.70 1995.55) rotate(0.271) scale(1.4024 1)" style="font-size:29.5px;letter-spacing:0.000px;stroke-width:0.96px">=</text>
<text class="t" transform="translate(1411.77 2000.24) rotate(0.271) scale(0.6900 1)" style="font-size:41.5px;letter-spacing:0.000px;stroke-width:0.10px">C</text>
<text class="t" transform="translate(1437.09 2000.36) rotate(0.271) scale(0.7200 1)" style="font-size:41.5px;letter-spacing:0.000px;stroke-width:0.10px">a</text>
<text class="t" transform="translate(252.48 2044.84) rotate(0.259) scale(0.7700 1)" style="font-size:41.5px;letter-spacing:3.363px;stroke-width:0.05px">Carbide</text>
<path class="ln" d="M396.9 2044.5 L950.8 2047.0" stroke-width="3.0" stroke-linejoin="miter" stroke-linecap="butt"/>
<text class="e" transform="translate(974.51 2044.62) rotate(0.259) scale(1.3675 1)" style="font-size:29.5px;letter-spacing:0.000px;stroke-width:0.96px">=</text>
<text class="m" transform="translate(1015.94 2050.01) rotate(0.259) scale(0.6495 1)" style="font-size:45px;letter-spacing:0.000px;stroke-width:0.22px">−</text>
<text class="t" transform="translate(1038.09 2049.21) rotate(0.259) scale(0.8000 1)" style="font-size:41.5px;letter-spacing:0.000px;stroke-width:0.10px">4</text>
<text class="e" transform="translate(1370.68 2045.39) rotate(0.259) scale(1.4024 1)" style="font-size:29.5px;letter-spacing:0.000px;stroke-width:0.96px">=</text>
<text class="t" transform="translate(1411.75 2050.07) rotate(0.259) scale(0.6900 1)" style="font-size:41.5px;letter-spacing:0.000px;stroke-width:0.10px">C</text>
<text class="t" transform="translate(252.48 2094.93) rotate(0.246) scale(0.7700 1)" style="font-size:41.5px;letter-spacing:3.738px;stroke-width:0.05px">Carbon</text>
<path class="ln" d="M373.5 2094.4 L950.8 2096.9" stroke-width="3.0" stroke-linejoin="miter" stroke-linecap="butt"/>
<text class="e" transform="translate(974.47 2094.66) rotate(0.246) scale(1.3675 1)" style="font-size:29.5px;letter-spacing:0.000px;stroke-width:0.96px">=</text>
<text class="x" transform="translate(1014.64 2099.14) rotate(0.246) scale(1.0017 1)" style="font-size:45px;letter-spacing:0.000px">+</text>
<text class="t" transform="translate(1044.05 2099.26) rotate(0.246) scale(0.8000 1)" style="font-size:41.5px;letter-spacing:0.000px;stroke-width:0.10px">4</text>
<text class="e" transform="translate(1370.66 2095.23) rotate(0.246) scale(1.4024 1)" style="font-size:29.5px;letter-spacing:0.000px;stroke-width:0.96px">=</text>
<text class="t" transform="translate(1411.73 2099.90) rotate(0.246) scale(0.6900 1)" style="font-size:41.5px;letter-spacing:0.000px;stroke-width:0.10px">C</text>
<text class="t" transform="translate(252.48 2145.01) rotate(0.233) scale(0.7700 1)" style="font-size:41.5px;letter-spacing:3.720px;stroke-width:0.05px">Carbonate</text>
<path class="ln" d="M441.6 2144.8 L950.8 2146.9" stroke-width="3.0" stroke-linejoin="miter" stroke-linecap="butt"/>
<text class="e" transform="translate(974.43 2144.70) rotate(0.233) scale(1.3675 1)" style="font-size:29.5px;letter-spacing:0.000px;stroke-width:0.96px">=</text>
<text class="m" transform="translate(1015.86 2150.07) rotate(0.233) scale(0.6495 1)" style="font-size:45px;letter-spacing:0.000px;stroke-width:0.22px">−</text>
<text class="t" transform="translate(1038.71 2149.26) rotate(0.233) scale(0.8000 1)" style="font-size:41.5px;letter-spacing:0.000px;stroke-width:0.10px">2</text>
<text class="e" transform="translate(1370.64 2145.07) rotate(0.233) scale(1.4024 1)" style="font-size:29.5px;letter-spacing:0.000px;stroke-width:0.96px">=</text>
<text class="t" transform="translate(1411.71 2149.73) rotate(0.233) scale(0.6900 1)" style="font-size:41.5px;letter-spacing:0.000px;stroke-width:0.10px">C</text>
<text class="t" transform="translate(1438.32 2149.84) rotate(0.233) scale(0.6000 1)" style="font-size:41.5px;letter-spacing:0.000px;stroke-width:0.10px">O</text>
<text class="t" transform="translate(1462.50 2158.94) rotate(0.233) scale(1.0000 1)" style="font-size:26px;letter-spacing:0.000px;stroke-width:0.10px">3</text>
<text class="t" transform="translate(252.48 2195.10) rotate(0.221) scale(0.7700 1)" style="font-size:41.5px;letter-spacing:3.907px;stroke-width:0.05px">Chlorate</text>
<path class="ln" d="M419.3 2194.7 L950.8 2196.8" stroke-width="3.0" stroke-linejoin="miter" stroke-linecap="butt"/>
<text class="e" transform="translate(974.39 2194.74) rotate(0.221) scale(1.3675 1)" style="font-size:29.5px;letter-spacing:0.000px;stroke-width:0.96px">=</text>
<text class="m" transform="translate(1015.82 2200.10) rotate(0.221) scale(0.6495 1)" style="font-size:45px;letter-spacing:0.000px;stroke-width:0.22px">−</text>
<text class="t" transform="translate(1033.32 2199.27) rotate(0.221) scale(0.8000 1)" style="font-size:41.5px;letter-spacing:0.000px;stroke-width:0.10px">1</text>
<text class="e" transform="translate(1370.62 2194.91) rotate(0.221) scale(1.4024 1)" style="font-size:29.5px;letter-spacing:0.000px;stroke-width:0.96px">=</text>
<text class="t" transform="translate(1411.68 2199.56) rotate(0.221) scale(0.6900 1)" style="font-size:41.5px;letter-spacing:0.000px;stroke-width:0.10px">C</text>
<text class="t" transform="translate(1435.76 2199.66) rotate(0.221) scale(0.7200 1)" style="font-size:41.5px;letter-spacing:0.000px;stroke-width:0.10px">l</text>
<text class="t" transform="translate(1447.42 2199.70) rotate(0.221) scale(0.6000 1)" style="font-size:41.5px;letter-spacing:0.000px;stroke-width:0.10px">O</text>
<text class="t" transform="translate(1471.61 2208.79) rotate(0.221) scale(1.0000 1)" style="font-size:26px;letter-spacing:0.000px;stroke-width:0.10px">3</text>
<text class="t" transform="translate(252.48 2245.19) rotate(0.208) scale(0.7700 1)" style="font-size:41.5px;letter-spacing:3.773px;stroke-width:0.05px">Chloride</text>
<path class="ln" d="M395.9 2244.7 L950.8 2246.7" stroke-width="3.0" stroke-linejoin="miter" stroke-linecap="butt"/>
<text class="e" transform="translate(974.35 2244.78) rotate(0.208) scale(1.3675 1)" style="font-size:29.5px;letter-spacing:0.000px;stroke-width:0.96px">=</text>
<text class="m" transform="translate(1015.78 2250.13) rotate(0.208) scale(0.6495 1)" style="font-size:45px;letter-spacing:0.000px;stroke-width:0.22px">−</text>
<text class="t" transform="translate(1033.28 2249.30) rotate(0.208) scale(0.8000 1)" style="font-size:41.5px;letter-spacing:0.000px;stroke-width:0.10px">1</text>
<text class="e" transform="translate(1370.60 2244.75) rotate(0.208) scale(1.4024 1)" style="font-size:29.5px;letter-spacing:0.000px;stroke-width:0.96px">=</text>
<text class="t" transform="translate(1411.66 2249.39) rotate(0.208) scale(0.6900 1)" style="font-size:41.5px;letter-spacing:0.000px;stroke-width:0.10px">C</text>
<text class="t" transform="translate(1435.74 2249.48) rotate(0.208) scale(0.7200 1)" style="font-size:41.5px;letter-spacing:0.000px;stroke-width:0.10px">l</text>
<text class="t" transform="translate(252.48 2295.28) rotate(0.195) scale(0.7700 1)" style="font-size:41.5px;letter-spacing:3.773px;stroke-width:0.05px">Chlorine</text>
<path class="ln" d="M394.4 2294.8 L950.7 2296.7" stroke-width="3.0" stroke-linejoin="miter" stroke-linecap="butt"/>
<text class="e" transform="translate(974.31 2294.82) rotate(0.195) scale(1.3675 1)" style="font-size:29.5px;letter-spacing:0.000px;stroke-width:0.96px">=</text>
<text class="m" transform="translate(1015.74 2300.16) rotate(0.195) scale(0.6495 1)" style="font-size:45px;letter-spacing:0.000px;stroke-width:0.22px">−</text>
<text class="t" transform="translate(1033.24 2299.32) rotate(0.195) scale(0.8000 1)" style="font-size:41.5px;letter-spacing:0.000px;stroke-width:0.10px">1</text>
<text class="e" transform="translate(1370.58 2294.59) rotate(0.195) scale(1.4024 1)" style="font-size:29.5px;letter-spacing:0.000px;stroke-width:0.96px">=</text>
<text class="t" transform="translate(1411.64 2299.22) rotate(0.195) scale(0.6900 1)" style="font-size:41.5px;letter-spacing:0.000px;stroke-width:0.10px">C</text>
<text class="t" transform="translate(1435.72 2299.31) rotate(0.195) scale(0.7200 1)" style="font-size:41.5px;letter-spacing:0.000px;stroke-width:0.10px">l</text>
<text class="t" transform="translate(252.48 2345.37) rotate(0.182) scale(0.7700 1)" style="font-size:41.5px;letter-spacing:3.978px;stroke-width:0.05px">Chromate</text>
<path class="ln" d="M419.3 2344.9 L950.7 2346.6" stroke-width="3.0" stroke-linejoin="miter" stroke-linecap="butt"/>
<text class="e" transform="translate(974.28 2344.86) rotate(0.182) scale(1.3675 1)" style="font-size:29.5px;letter-spacing:0.000px;stroke-width:0.96px">=</text>
<text class="m" transform="translate(1015.70 2350.20) rotate(0.182) scale(0.6495 1)" style="font-size:45px;letter-spacing:0.000px;stroke-width:0.22px">−</text>
<text class="t" transform="translate(1038.55 2349.37) rotate(0.182) scale(0.8000 1)" style="font-size:41.5px;letter-spacing:0.000px;stroke-width:0.10px">2</text>
<text class="e" transform="translate(1370.55 2344.42) rotate(0.182) scale(1.4024 1)" style="font-size:29.5px;letter-spacing:0.000px;stroke-width:0.96px">=</text>
<text class="t" transform="translate(1411.62 2349.06) rotate(0.182) scale(0.6900 1)" style="font-size:41.5px;letter-spacing:0.000px;stroke-width:0.10px">C</text>
<text class="t" transform="translate(1436.22 2349.13) rotate(0.182) scale(0.7200 1)" style="font-size:41.5px;letter-spacing:0.000px;stroke-width:0.10px">r</text>
<text class="t" transform="translate(1452.70 2349.19) rotate(0.182) scale(0.6000 1)" style="font-size:41.5px;letter-spacing:0.000px;stroke-width:0.10px">O</text>
<text class="t" transform="translate(1477.28 2358.26) rotate(0.182) scale(1.0000 1)" style="font-size:26px;letter-spacing:0.000px;stroke-width:0.10px">4</text>
<text class="t" transform="translate(252.48 2395.46) rotate(0.170) scale(0.7700 1)" style="font-size:41.5px;letter-spacing:3.876px;stroke-width:0.05px">Chromic</text>
<path class="ln" d="M395.9 2394.9 L950.7 2396.5" stroke-width="3.0" stroke-linejoin="miter" stroke-linecap="butt"/>
<text class="e" transform="translate(974.24 2394.79) rotate(0.170) scale(1.3675 1)" style="font-size:29.5px;letter-spacing:0.000px;stroke-width:0.96px">=</text>
<text class="x" transform="translate(1014.41 2399.21) rotate(0.170) scale(1.0017 1)" style="font-size:45px;letter-spacing:0.000px">+</text>
<text class="t" transform="translate(1044.30 2399.30) rotate(0.170) scale(0.8000 1)" style="font-size:41.5px;letter-spacing:0.000px;stroke-width:0.10px">3</text>
<text class="e" transform="translate(1370.53 2394.26) rotate(0.170) scale(1.4024 1)" style="font-size:29.5px;letter-spacing:0.000px;stroke-width:0.96px">=</text>
<text class="t" transform="translate(1411.60 2398.89) rotate(0.170) scale(0.6900 1)" style="font-size:41.5px;letter-spacing:0.000px;stroke-width:0.10px">C</text>
<text class="t" transform="translate(1436.20 2398.96) rotate(0.170) scale(0.7200 1)" style="font-size:41.5px;letter-spacing:0.000px;stroke-width:0.10px">r</text>
<text class="t" transform="translate(252.48 2445.28) rotate(0.170) scale(0.7700 1)" style="font-size:41.5px;letter-spacing:3.409px;stroke-width:0.05px">Cupric</text>
<path class="ln" d="M373.5 2444.6 L950.7 2446.4" stroke-width="3.0" stroke-linejoin="miter" stroke-linecap="butt"/>
<text class="e" transform="translate(974.20 2444.62) rotate(0.170) scale(1.3675 1)" style="font-size:29.5px;letter-spacing:0.000px;stroke-width:0.96px">=</text>
<text class="x" transform="translate(1014.37 2449.04) rotate(0.170) scale(1.0017 1)" style="font-size:45px;letter-spacing:0.000px">+</text>
<text class="t" transform="translate(1044.47 2449.13) rotate(0.170) scale(0.8000 1)" style="font-size:41.5px;letter-spacing:0.000px;stroke-width:0.10px">2</text>
<text class="e" transform="translate(1370.51 2444.09) rotate(0.170) scale(1.4024 1)" style="font-size:29.5px;letter-spacing:0.000px;stroke-width:0.96px">=</text>
<text class="t" transform="translate(1411.58 2448.71) rotate(0.170) scale(0.6900 1)" style="font-size:41.5px;letter-spacing:0.000px;stroke-width:0.10px">C</text>
<text class="t" transform="translate(1436.22 2448.79) rotate(0.170) scale(0.7200 1)" style="font-size:41.5px;letter-spacing:0.000px;stroke-width:0.10px">u</text>
<text class="t" transform="translate(252.48 2495.11) rotate(0.170) scale(0.7700 1)" style="font-size:41.5px;letter-spacing:3.224px;stroke-width:0.05px">Cuprous</text>
<path class="ln" d="M395.9 2494.5 L950.6 2496.2" stroke-width="3.0" stroke-linejoin="miter" stroke-linecap="butt"/>
<text class="e" transform="translate(974.16 2494.45) rotate(0.170) scale(1.3675 1)" style="font-size:29.5px;letter-spacing:0.000px;stroke-width:0.96px">=</text>
<text class="x" transform="translate(1014.33 2498.87) rotate(0.170) scale(1.0017 1)" style="font-size:45px;letter-spacing:0.000px">+</text>
<text class="t" transform="translate(1039.39 2498.94) rotate(0.170) scale(0.8000 1)" style="font-size:41.5px;letter-spacing:0.000px;stroke-width:0.10px">1</text>
<text class="e" transform="translate(1370.49 2493.92) rotate(0.170) scale(1.4024 1)" style="font-size:29.5px;letter-spacing:0.000px;stroke-width:0.96px">=</text>
<text class="t" transform="translate(1411.56 2498.54) rotate(0.170) scale(0.6900 1)" style="font-size:41.5px;letter-spacing:0.000px;stroke-width:0.10px">C</text>
<text class="t" transform="translate(1436.20 2498.62) rotate(0.170) scale(0.7200 1)" style="font-size:41.5px;letter-spacing:0.000px;stroke-width:0.10px">u</text>
<text class="t" transform="translate(252.48 2544.94) rotate(0.170) scale(0.7700 1)" style="font-size:41.5px;letter-spacing:3.723px;stroke-width:0.05px">Cyanide</text>
<path class="ln" d="M394.4 2544.4 L950.6 2546.0" stroke-width="3.0" stroke-linejoin="miter" stroke-linecap="butt"/>
<text class="e" transform="translate(974.12 2544.28) rotate(0.170) scale(1.3675 1)" style="font-size:29.5px;letter-spacing:0.000px;stroke-width:0.96px">=</text>
<text class="m" transform="translate(1015.55 2549.60) rotate(0.170) scale(0.6495 1)" style="font-size:45px;letter-spacing:0.000px;stroke-width:0.22px">−</text>
<text class="t" transform="translate(1033.05 2548.75) rotate(0.170) scale(0.8000 1)" style="font-size:41.5px;letter-spacing:0.000px;stroke-width:0.10px">1</text>
<text class="e" transform="translate(1370.47 2543.75) rotate(0.170) scale(1.4024 1)" style="font-size:29.5px;letter-spacing:0.000px;stroke-width:0.96px">=</text>
<text class="t" transform="translate(1411.53 2548.37) rotate(0.170) scale(0.6900 1)" style="font-size:41.5px;letter-spacing:0.000px;stroke-width:0.10px">C</text>
<text class="t" transform="translate(1436.94 2548.45) rotate(0.170) scale(0.7000 1)" style="font-size:41.5px;letter-spacing:0.000px;stroke-width:0.10px">N</text>
<text class="t" transform="translate(251.88 2594.77) rotate(0.170) scale(0.7700 1)" style="font-size:41.5px;letter-spacing:3.770px;stroke-width:0.05px">Ferric</text>
<path class="ln" d="M373.0 2594.1 L950.6 2595.8" stroke-width="3.0" stroke-linejoin="miter" stroke-linecap="butt"/>
<text class="e" transform="translate(974.08 2594.11) rotate(0.170) scale(1.3675 1)" style="font-size:29.5px;letter-spacing:0.000px;stroke-width:0.96px">=</text>
<text class="x" transform="translate(1014.25 2598.52) rotate(0.170) scale(1.0017 1)" style="font-size:45px;letter-spacing:0.000px">+</text>
<text class="t" transform="translate(1044.15 2598.61) rotate(0.170) scale(0.8000 1)" style="font-size:41.5px;letter-spacing:0.000px;stroke-width:0.10px">3</text>
<text class="e" transform="translate(1370.45 2593.58) rotate(0.170) scale(1.4024 1)" style="font-size:29.5px;letter-spacing:0.000px;stroke-width:0.96px">=</text>
<text class="t" transform="translate(1413.38 2598.21) rotate(0.170) scale(0.7600 1)" style="font-size:41.5px;letter-spacing:0.000px;stroke-width:0.10px">F</text>
<text class="t" transform="translate(1437.11 2598.28) rotate(0.170) scale(0.7200 1)" style="font-size:41.5px;letter-spacing:0.000px;stroke-width:0.10px">e</text>
<text class="t" transform="translate(251.88 2644.60) rotate(0.170) scale(0.7700 1)" style="font-size:41.5px;letter-spacing:3.502px;stroke-width:0.05px">Ferrous</text>
<path class="ln" d="M394.4 2644.0 L950.6 2645.7" stroke-width="3.0" stroke-linejoin="miter" stroke-linecap="butt"/>
<text class="e" transform="translate(974.05 2643.93) rotate(0.170) scale(1.3675 1)" style="font-size:29.5px;letter-spacing:0.000px;stroke-width:0.96px">=</text>
<text class="x" transform="translate(1014.21 2648.35) rotate(0.170) scale(1.0017 1)" style="font-size:45px;letter-spacing:0.000px">+</text>
<text class="t" transform="translate(1044.32 2648.44) rotate(0.170) scale(0.8000 1)" style="font-size:41.5px;letter-spacing:0.000px;stroke-width:0.10px">2</text>
<text class="e" transform="translate(1370.42 2643.41) rotate(0.170) scale(1.4024 1)" style="font-size:29.5px;letter-spacing:0.000px;stroke-width:0.96px">=</text>
<text class="t" transform="translate(1413.36 2648.03) rotate(0.170) scale(0.7600 1)" style="font-size:41.5px;letter-spacing:0.000px;stroke-width:0.10px">F</text>
<text class="t" transform="translate(1437.09 2648.10) rotate(0.170) scale(0.7200 1)" style="font-size:41.5px;letter-spacing:0.000px;stroke-width:0.10px">e</text>
<text class="t" transform="translate(251.88 2694.42) rotate(0.170) scale(0.7700 1)" style="font-size:41.5px;letter-spacing:3.895px;stroke-width:0.05px">Flouride</text>
<path class="ln" d="M394.3 2693.8 L950.5 2695.5" stroke-width="3.0" stroke-linejoin="miter" stroke-linecap="butt"/>
<text class="e" transform="translate(974.01 2693.76) rotate(0.170) scale(1.3675 1)" style="font-size:29.5px;letter-spacing:0.000px;stroke-width:0.96px">=</text>
<text class="m" transform="translate(1015.44 2699.09) rotate(0.170) scale(0.6495 1)" style="font-size:45px;letter-spacing:0.000px;stroke-width:0.22px">−</text>
<text class="t" transform="translate(1032.93 2698.24) rotate(0.170) scale(0.8000 1)" style="font-size:41.5px;letter-spacing:0.000px;stroke-width:0.10px">1</text>
<text class="e" transform="translate(1370.40 2693.24) rotate(0.170) scale(1.4024 1)" style="font-size:29.5px;letter-spacing:0.000px;stroke-width:0.96px">=</text>
<text class="t" transform="translate(1413.34 2697.86) rotate(0.170) scale(0.7600 1)" style="font-size:41.5px;letter-spacing:0.000px;stroke-width:0.10px">F</text>
<text class="t" transform="translate(74.06 2743.73) rotate(0.170) scale(0.7700 1)" style="font-size:41.5px;letter-spacing:3.819px;stroke-width:0.05px">Valences:</text>
<text class="t" transform="translate(251.88 2744.25) rotate(0.170) scale(0.7700 1)" style="font-size:41.5px;letter-spacing:4.516px;stroke-width:0.05px">Hydrogen</text>
<path class="ln" d="M415.2 2743.7 L950.5 2745.3" stroke-width="3.0" stroke-linejoin="miter" stroke-linecap="butt"/>
<text class="e" transform="translate(973.97 2743.59) rotate(0.170) scale(1.3675 1)" style="font-size:29.5px;letter-spacing:0.000px;stroke-width:0.96px">=</text>
<text class="x" transform="translate(1014.14 2748.01) rotate(0.170) scale(1.0017 1)" style="font-size:45px;letter-spacing:0.000px">+</text>
<text class="t" transform="translate(1039.20 2748.08) rotate(0.170) scale(0.8000 1)" style="font-size:41.5px;letter-spacing:0.000px;stroke-width:0.10px">1</text>
<text class="e" transform="translate(1370.38 2743.06) rotate(0.170) scale(1.4024 1)" style="font-size:29.5px;letter-spacing:0.000px;stroke-width:0.96px">=</text>
<text class="t" transform="translate(1413.35 2747.69) rotate(0.170) scale(0.7500 1)" style="font-size:41.5px;letter-spacing:0.000px;stroke-width:0.10px">H</text>
<text class="t" transform="translate(251.88 2794.31) rotate(0.172) scale(0.7700 1)" style="font-size:41.5px;letter-spacing:4.202px;stroke-width:0.11px">Hydroxide</text>
<path class="ln" d="M440.0 2793.9 L950.5 2795.4" stroke-width="3.0" stroke-linejoin="miter" stroke-linecap="butt"/>
<text class="e" transform="translate(973.93 2793.81) rotate(0.172) scale(1.3675 1)" style="font-size:29.5px;letter-spacing:0.000px;stroke-width:0.98px">=</text>
<text class="m" transform="translate(1015.36 2799.13) rotate(0.172) scale(0.6495 1)" style="font-size:45px;letter-spacing:0.000px;stroke-width:0.25px">−</text>
<text class="t" transform="translate(1032.86 2798.28) rotate(0.172) scale(0.8000 1)" style="font-size:41.5px;letter-spacing:0.000px;stroke-width:0.14px">1</text>
<text class="e" transform="translate(1370.36 2793.16) rotate(0.172) scale(1.4024 1)" style="font-size:29.5px;letter-spacing:0.000px;stroke-width:0.98px">=</text>
<text class="t" transform="translate(1411.70 2797.79) rotate(0.172) scale(0.6000 1)" style="font-size:41.5px;letter-spacing:0.000px;stroke-width:0.14px">O</text>
<text class="t" transform="translate(1435.52 2797.86) rotate(0.172) scale(0.7500 1)" style="font-size:41.5px;letter-spacing:0.000px;stroke-width:0.14px">H</text>
<text class="t" transform="translate(251.55 2844.36) rotate(0.174) scale(0.7700 1)" style="font-size:41.5px;letter-spacing:4.131px;stroke-width:0.17px">Iodide</text>
<path class="ln" d="M373.0 2843.7 L950.5 2845.5" stroke-width="3.0" stroke-linejoin="miter" stroke-linecap="butt"/>
<text class="e" transform="translate(973.89 2844.02) rotate(0.174) scale(1.3675 1)" style="font-size:29.5px;letter-spacing:0.000px;stroke-width:1.00px">=</text>
<text class="m" transform="translate(1015.32 2849.35) rotate(0.174) scale(0.6495 1)" style="font-size:45px;letter-spacing:0.000px;stroke-width:0.27px">−</text>
<text class="t" transform="translate(1032.82 2848.50) rotate(0.174) scale(0.8000 1)" style="font-size:41.5px;letter-spacing:0.000px;stroke-width:0.17px">1</text>
<text class="e" transform="translate(1370.34 2843.26) rotate(0.174) scale(1.4024 1)" style="font-size:29.5px;letter-spacing:0.000px;stroke-width:1.00px">=</text>
<text class="t" transform="translate(1412.79 2847.89) rotate(0.174) scale(0.8000 1)" style="font-size:41.5px;letter-spacing:0.000px;stroke-width:0.17px">I</text>
<text class="t" transform="translate(251.88 2894.41) rotate(0.176) scale(0.7700 1)" style="font-size:41.5px;letter-spacing:4.932px;stroke-width:0.24px">Lead</text>
<path class="ln" d="M350.7 2893.7 L950.5 2895.6" stroke-width="3.0" stroke-linejoin="miter" stroke-linecap="butt"/>
<text class="e" transform="translate(973.85 2894.23) rotate(0.176) scale(1.3675 1)" style="font-size:29.5px;letter-spacing:0.000px;stroke-width:1.02px">=</text>
<text class="x" transform="translate(1014.02 2898.66) rotate(0.176) scale(1.0017 1)" style="font-size:45px;letter-spacing:0.000px">+</text>
<text class="t" transform="translate(1044.13 2898.75) rotate(0.176) scale(0.8000 1)" style="font-size:41.5px;letter-spacing:0.000px;stroke-width:0.21px">2</text>
<text class="e" transform="translate(1370.32 2893.35) rotate(0.176) scale(1.4024 1)" style="font-size:29.5px;letter-spacing:0.000px;stroke-width:1.02px">=</text>
<text class="t" transform="translate(1413.32 2897.99) rotate(0.176) scale(0.7400 1)" style="font-size:41.5px;letter-spacing:0.000px;stroke-width:0.21px">P</text>
<text class="t" transform="translate(1437.26 2898.06) rotate(0.176) scale(0.7200 1)" style="font-size:41.5px;letter-spacing:0.000px;stroke-width:0.21px">b</text>
<text class="t" transform="translate(251.88 2944.46) rotate(0.179) scale(0.7700 1)" style="font-size:41.5px;letter-spacing:5.458px;stroke-width:0.30px">Lithium</text>
<path class="ln" d="M394.3 2943.9 L950.4 2945.6" stroke-width="3.0" stroke-linejoin="miter" stroke-linecap="butt"/>
<text class="e" transform="translate(973.81 2944.45) rotate(0.179) scale(1.3675 1)" style="font-size:29.5px;letter-spacing:0.000px;stroke-width:1.04px">=</text>
<text class="x" transform="translate(1013.98 2948.87) rotate(0.179) scale(1.0017 1)" style="font-size:45px;letter-spacing:0.000px">+</text>
<text class="t" transform="translate(1039.04 2948.95) rotate(0.179) scale(0.8000 1)" style="font-size:41.5px;letter-spacing:0.000px;stroke-width:0.25px">1</text>
<text class="e" transform="translate(1370.30 2943.45) rotate(0.179) scale(1.4024 1)" style="font-size:29.5px;letter-spacing:0.000px;stroke-width:1.04px">=</text>
<text class="t" transform="translate(1413.23 2948.09) rotate(0.179) scale(0.7600 1)" style="font-size:41.5px;letter-spacing:0.000px;stroke-width:0.25px">L</text>
<text class="t" transform="translate(1434.22 2948.15) rotate(0.179) scale(0.7200 1)" style="font-size:41.5px;letter-spacing:0.000px;stroke-width:0.25px">i</text>
<text class="t" transform="translate(251.88 2994.51) rotate(0.181) scale(0.7700 1)" style="font-size:41.5px;letter-spacing:4.148px;stroke-width:0.36px">Magnesium</text>
<path class="ln" d="M461.4 2994.2 L950.4 2995.7" stroke-width="3.0" stroke-linejoin="miter" stroke-linecap="butt"/>
<text class="e" transform="translate(973.78 2994.66) rotate(0.181) scale(1.3675 1)" style="font-size:29.5px;letter-spacing:0.000px;stroke-width:1.04px">=</text>
<text class="x" transform="translate(1013.95 2999.09) rotate(0.181) scale(1.0017 1)" style="font-size:45px;letter-spacing:0.000px">+</text>
<text class="t" transform="translate(1044.05 2999.18) rotate(0.181) scale(0.8000 1)" style="font-size:41.5px;letter-spacing:0.000px;stroke-width:0.26px">2</text>
<text class="e" transform="translate(1370.27 2993.55) rotate(0.181) scale(1.4024 1)" style="font-size:29.5px;letter-spacing:0.000px;stroke-width:1.04px">=</text>
<text class="t" transform="translate(1413.27 2998.18) rotate(0.181) scale(0.7400 1)" style="font-size:41.5px;letter-spacing:0.000px;stroke-width:0.26px">M</text>
<text class="t" transform="translate(1442.08 2998.27) rotate(0.181) scale(0.7200 1)" style="font-size:41.5px;letter-spacing:0.000px;stroke-width:0.26px">g</text>
<text class="t" transform="translate(251.88 3044.57) rotate(0.183) scale(0.7700 1)" style="font-size:41.5px;letter-spacing:3.659px;stroke-width:0.43px">Manganese</text>
<path class="ln" d="M462.4 3044.2 L950.4 3045.8" stroke-width="3.0" stroke-linejoin="miter" stroke-linecap="butt"/>
<text class="e" transform="translate(973.74 3044.88) rotate(0.183) scale(1.3675 1)" style="font-size:29.5px;letter-spacing:0.000px;stroke-width:1.05px">=</text>
<text class="x" transform="translate(1013.91 3049.30) rotate(0.183) scale(1.0017 1)" style="font-size:45px;letter-spacing:0.000px">+</text>
<text class="t" transform="translate(1044.01 3049.40) rotate(0.183) scale(0.8000 1)" style="font-size:41.5px;letter-spacing:0.000px;stroke-width:0.27px">2</text>
<text class="e" transform="translate(1370.25 3043.64) rotate(0.183) scale(1.4024 1)" style="font-size:29.5px;letter-spacing:0.000px;stroke-width:1.05px">=</text>
<text class="t" transform="translate(1413.25 3048.28) rotate(0.183) scale(0.7400 1)" style="font-size:41.5px;letter-spacing:0.000px;stroke-width:0.27px">M</text>
<text class="t" transform="translate(1441.33 3048.37) rotate(0.183) scale(0.7200 1)" style="font-size:41.5px;letter-spacing:0.000px;stroke-width:0.27px">n</text>
<text class="t" transform="translate(251.88 3095.07) rotate(0.154) scale(0.7700 1)" style="font-size:41.5px;letter-spacing:4.038px;stroke-width:0.49px">Mercuric</text>
<path class="ln" d="M416.7 3094.5 L950.4 3096.0" stroke-width="3.0" stroke-linejoin="miter" stroke-linecap="butt"/>
<text class="e" transform="translate(973.70 3095.13) rotate(0.154) scale(1.3675 1)" style="font-size:29.5px;letter-spacing:0.000px;stroke-width:1.05px">=</text>
<text class="x" transform="translate(1013.87 3099.54) rotate(0.154) scale(1.0017 1)" style="font-size:45px;letter-spacing:0.000px">+</text>
<text class="t" transform="translate(1043.97 3099.62) rotate(0.154) scale(0.8000 1)" style="font-size:41.5px;letter-spacing:0.000px;stroke-width:0.28px">2</text>
<text class="e" transform="translate(1370.23 3093.59) rotate(0.154) scale(1.4024 1)" style="font-size:29.5px;letter-spacing:0.000px;stroke-width:1.05px">=</text>
<text class="t" transform="translate(1413.20 3098.20) rotate(0.154) scale(0.7500 1)" style="font-size:41.5px;letter-spacing:0.000px;stroke-width:0.28px">H</text>
<text class="t" transform="translate(1438.88 3098.27) rotate(0.154) scale(0.7200 1)" style="font-size:41.5px;letter-spacing:0.000px;stroke-width:0.28px">g</text>
<text class="t" transform="translate(251.88 3145.58) rotate(0.125) scale(0.7700 1)" style="font-size:41.5px;letter-spacing:3.642px;stroke-width:0.55px">Mercurous</text>
<path class="ln" d="M440.0 3145.0 L950.3 3146.1" stroke-width="3.0" stroke-linejoin="miter" stroke-linecap="butt"/>
<text class="e" transform="translate(973.66 3145.38) rotate(0.125) scale(1.3675 1)" style="font-size:29.5px;letter-spacing:0.000px;stroke-width:1.06px">=</text>
<text class="x" transform="translate(1013.83 3149.77) rotate(0.125) scale(1.0017 1)" style="font-size:45px;letter-spacing:0.000px">+</text>
<text class="t" transform="translate(1038.89 3149.83) rotate(0.125) scale(0.8000 1)" style="font-size:41.5px;letter-spacing:0.000px;stroke-width:0.29px">1</text>
<text class="e" transform="translate(1370.21 3143.53) rotate(0.125) scale(1.4024 1)" style="font-size:29.5px;letter-spacing:0.000px;stroke-width:1.06px">=</text>
<text class="t" transform="translate(1413.18 3148.12) rotate(0.125) scale(0.7500 1)" style="font-size:41.5px;letter-spacing:0.000px;stroke-width:0.29px">H</text>
<text class="t" transform="translate(1438.86 3148.18) rotate(0.125) scale(0.7200 1)" style="font-size:41.5px;letter-spacing:0.000px;stroke-width:0.29px">g</text>
<text class="t" transform="translate(251.88 3196.09) rotate(0.096) scale(0.7700 1)" style="font-size:41.5px;letter-spacing:4.638px;stroke-width:0.55px">Nickel</text>
<path class="ln" d="M372.0 3195.3 L950.3 3196.3" stroke-width="3.0" stroke-linejoin="miter" stroke-linecap="butt"/>
<text class="e" transform="translate(973.62 3195.64) rotate(0.096) scale(1.3675 1)" style="font-size:29.5px;letter-spacing:0.000px;stroke-width:1.06px">=</text>
<text class="x" transform="translate(1013.79 3200.00) rotate(0.096) scale(1.0017 1)" style="font-size:45px;letter-spacing:0.000px">+</text>
<text class="t" transform="translate(1043.90 3200.06) rotate(0.096) scale(0.8000 1)" style="font-size:41.5px;letter-spacing:0.000px;stroke-width:0.30px">2</text>
<text class="e" transform="translate(1370.19 3193.47) rotate(0.096) scale(1.4024 1)" style="font-size:29.5px;letter-spacing:0.000px;stroke-width:1.06px">=</text>
<text class="t" transform="translate(1413.32 3198.04) rotate(0.096) scale(0.7000 1)" style="font-size:41.5px;letter-spacing:0.000px;stroke-width:0.30px">N</text>
<text class="t" transform="translate(1436.44 3198.08) rotate(0.096) scale(0.7200 1)" style="font-size:41.5px;letter-spacing:0.000px;stroke-width:0.30px">i</text>
<text class="t" transform="translate(251.88 3246.37) rotate(0.077) scale(0.7700 1)" style="font-size:41.5px;letter-spacing:5.070px;stroke-width:0.55px">Nitrate</text>
<path class="ln" d="M372.0 3245.5 L950.3 3246.3" stroke-width="3.0" stroke-linejoin="miter" stroke-linecap="butt"/>
<text class="e" transform="translate(973.58 3245.79) rotate(0.077) scale(1.3675 1)" style="font-size:29.5px;letter-spacing:0.000px;stroke-width:1.07px">=</text>
<text class="m" transform="translate(1015.01 3251.05) rotate(0.077) scale(0.6495 1)" style="font-size:45px;letter-spacing:0.000px;stroke-width:0.37px">−</text>
<text class="t" transform="translate(1032.51 3250.17) rotate(0.077) scale(0.8000 1)" style="font-size:41.5px;letter-spacing:0.000px;stroke-width:0.31px">1</text>
<text class="e" transform="translate(1370.17 3243.37) rotate(0.077) scale(1.4024 1)" style="font-size:29.5px;letter-spacing:0.000px;stroke-width:1.07px">=</text>
<text class="t" transform="translate(1413.30 3247.93) rotate(0.077) scale(0.7000 1)" style="font-size:41.5px;letter-spacing:0.000px;stroke-width:0.31px">N</text>
<text class="t" transform="translate(1438.93 3247.97) rotate(0.077) scale(0.6000 1)" style="font-size:41.5px;letter-spacing:0.000px;stroke-width:0.31px">O</text>
<text class="t" transform="translate(1463.12 3257.00) rotate(0.077) scale(1.0000 1)" style="font-size:26px;letter-spacing:0.000px;stroke-width:0.31px">3</text>
<text class="t" transform="translate(251.88 3296.65) rotate(0.058) scale(0.7700 1)" style="font-size:41.5px;letter-spacing:4.772px;stroke-width:0.55px">Nitric (Nitrogen)</text>
<path class="ln" d="M550.8 3296.0 L950.3 3296.4" stroke-width="3.0" stroke-linejoin="miter" stroke-linecap="butt"/>
<text class="e" transform="translate(973.55 3295.94) rotate(0.058) scale(1.3675 1)" style="font-size:29.5px;letter-spacing:0.000px;stroke-width:1.08px">=</text>
<text class="x" transform="translate(1013.71 3300.28) rotate(0.058) scale(1.0017 1)" style="font-size:45px;letter-spacing:0.000px">+</text>
<text class="t" transform="translate(1043.55 3300.31) rotate(0.058) scale(0.8000 1)" style="font-size:41.5px;letter-spacing:0.000px;stroke-width:0.32px">5</text>
<text class="e" transform="translate(1370.14 3293.28) rotate(0.058) scale(1.4024 1)" style="font-size:29.5px;letter-spacing:0.000px;stroke-width:1.08px">=</text>
<text class="t" transform="translate(1413.28 3297.82) rotate(0.058) scale(0.7000 1)" style="font-size:41.5px;letter-spacing:0.000px;stroke-width:0.32px">N</text>
<text class="t" transform="translate(251.88 3346.93) rotate(0.039) scale(0.7700 1)" style="font-size:41.5px;letter-spacing:4.503px;stroke-width:0.55px">Nitride</text>
<path class="ln" d="M372.0 3346.0 L950.2 3346.4" stroke-width="3.0" stroke-linejoin="miter" stroke-linecap="butt"/>
<text class="e" transform="translate(973.51 3346.09) rotate(0.039) scale(1.3675 1)" style="font-size:29.5px;letter-spacing:0.000px;stroke-width:1.08px">=</text>
<text class="m" transform="translate(1014.94 3351.32) rotate(0.039) scale(0.6495 1)" style="font-size:45px;letter-spacing:0.000px;stroke-width:0.38px">−</text>
<text class="t" transform="translate(1037.57 3350.44) rotate(0.039) scale(0.8000 1)" style="font-size:41.5px;letter-spacing:0.000px;stroke-width:0.33px">3</text>
<text class="e" transform="translate(1370.12 3343.19) rotate(0.039) scale(1.4024 1)" style="font-size:29.5px;letter-spacing:0.000px;stroke-width:1.08px">=</text>
<text class="t" transform="translate(1413.26 3347.72) rotate(0.039) scale(0.7000 1)" style="font-size:41.5px;letter-spacing:0.000px;stroke-width:0.33px">N</text>
<text class="t" transform="translate(251.88 3397.22) rotate(0.019) scale(0.7700 1)" style="font-size:41.5px;letter-spacing:5.237px;stroke-width:0.55px">Nitrite</text>
<path class="ln" d="M372.0 3396.3 L950.2 3396.5" stroke-width="3.0" stroke-linejoin="miter" stroke-linecap="butt"/>
<text class="e" transform="translate(973.47 3396.25) rotate(0.019) scale(1.3675 1)" style="font-size:29.5px;letter-spacing:0.000px;stroke-width:1.09px">=</text>
<text class="m" transform="translate(1014.90 3401.46) rotate(0.019) scale(0.6495 1)" style="font-size:45px;letter-spacing:0.000px;stroke-width:0.39px">−</text>
<text class="t" transform="translate(1032.40 3400.57) rotate(0.019) scale(0.8000 1)" style="font-size:41.5px;letter-spacing:0.000px;stroke-width:0.34px">1</text>
<text class="e" transform="translate(1370.10 3393.09) rotate(0.019) scale(1.4024 1)" style="font-size:29.5px;letter-spacing:0.000px;stroke-width:1.09px">=</text>
<text class="t" transform="translate(1413.24 3397.61) rotate(0.019) scale(0.7000 1)" style="font-size:41.5px;letter-spacing:0.000px;stroke-width:0.34px">N</text>
<text class="t" transform="translate(1438.87 3397.62) rotate(0.019) scale(0.6000 1)" style="font-size:41.5px;letter-spacing:0.000px;stroke-width:0.34px">O</text>
<text class="t" transform="translate(1462.74 3406.62) rotate(0.019) scale(1.0000 1)" style="font-size:26px;letter-spacing:0.000px;stroke-width:0.34px">2</text>
<text class="t" transform="translate(252.59 3447.50) rotate(0.000) scale(0.7700 1)" style="font-size:41.5px;letter-spacing:3.265px;stroke-width:0.55px">Oxide</text>
<path class="ln" d="M349.7 3446.5 L950.2 3446.5" stroke-width="3.0" stroke-linejoin="miter" stroke-linecap="butt"/>
<text class="e" transform="translate(973.43 3446.40) rotate(0.000) scale(1.3675 1)" style="font-size:29.5px;letter-spacing:0.000px;stroke-width:1.09px">=</text>
<text class="m" transform="translate(1014.86 3451.60) rotate(0.000) scale(0.6495 1)" style="font-size:45px;letter-spacing:0.000px;stroke-width:0.39px">−</text>
<text class="t" transform="translate(1037.71 3450.70) rotate(0.000) scale(0.8000 1)" style="font-size:41.5px;letter-spacing:0.000px;stroke-width:0.35px">2</text>
<text class="e" transform="translate(1370.08 3443.00) rotate(0.000) scale(1.4024 1)" style="font-size:29.5px;letter-spacing:0.000px;stroke-width:1.09px">=</text>
<text class="t" transform="translate(1411.42 3447.50) rotate(0.000) scale(0.6000 1)" style="font-size:41.5px;letter-spacing:0.000px;stroke-width:0.35px">O</text>
</svg>
</body></html>
